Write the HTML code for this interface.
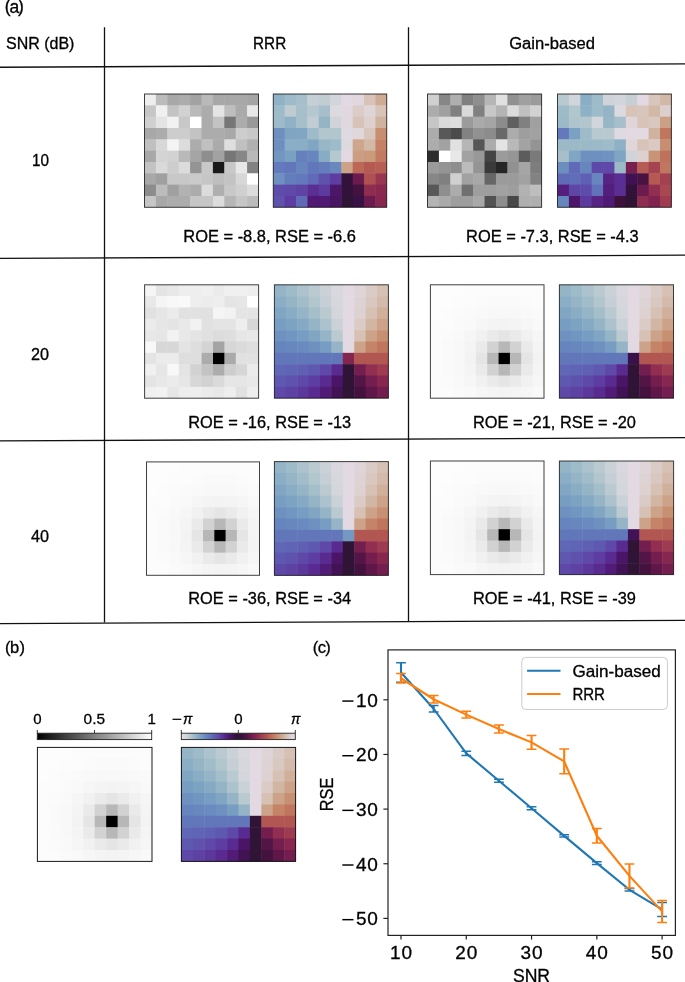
<!DOCTYPE html>
<html><head><meta charset="utf-8"><style>
html,body{margin:0;padding:0;background:#fff;}
svg{display:block;will-change:transform;}
text{font-family:"Liberation Sans",sans-serif;fill:#000;stroke:#000;stroke-width:0.3px;}
</style></head><body>
<svg width="685" height="982" viewBox="0 0 685 982">
<rect width="685" height="982" fill="#fff"/>
<text x="4.8" y="12.0" font-size="17.5">(</text>
<text x="9.4" y="12.9" font-size="17.5">a</text>
<text x="18.1" y="12.0" font-size="17.5">)</text>
<line x1="0" y1="67.25" x2="685" y2="63.90" stroke="#111" stroke-width="1.3"/>
<line x1="0" y1="258.45" x2="685" y2="255.20" stroke="#111" stroke-width="1.3"/>
<line x1="0" y1="440.95" x2="685" y2="437.70" stroke="#111" stroke-width="1.3"/>
<line x1="0" y1="623.55" x2="685" y2="620.30" stroke="#111" stroke-width="1.3"/>
<line x1="104.5" y1="27.3" x2="104.5" y2="622.5" stroke="#111" stroke-width="1.3"/>
<line x1="408.5" y1="27.3" x2="408.5" y2="621.5" stroke="#111" stroke-width="1.3"/>
<text x="6.0" y="49.0" font-size="16.0" textLength="68.4" lengthAdjust="spacingAndGlyphs">SNR (dB)</text>
<text x="253.1" y="48.6" font-size="16.0" textLength="33.1" lengthAdjust="spacingAndGlyphs">RRR</text>
<text x="509.2" y="48.6" font-size="16.0" textLength="85.7" lengthAdjust="spacingAndGlyphs">Gain-based</text>
<text x="32.0" y="166.0" font-size="16.0" textLength="17.0" lengthAdjust="spacingAndGlyphs">10</text>
<text x="31.0" y="360.0" font-size="16.0" textLength="18.0" lengthAdjust="spacingAndGlyphs">20</text>
<text x="31.0" y="542.4" font-size="16.0" textLength="18.0" lengthAdjust="spacingAndGlyphs">40</text>
<text x="183.3" y="242.2" font-size="16.0" textLength="172.6" lengthAdjust="spacingAndGlyphs">ROE = -8.8, RSE = -6.6</text>
<text x="466.1" y="242.2" font-size="16.0" textLength="172.5" lengthAdjust="spacingAndGlyphs">ROE = -7.3, RSE = -4.3</text>
<text x="188.3" y="428.0" font-size="16.0" textLength="162.8" lengthAdjust="spacingAndGlyphs">ROE = -16, RSE = -13</text>
<text x="473.0" y="428.0" font-size="16.0" textLength="162.9" lengthAdjust="spacingAndGlyphs">ROE = -21, RSE = -20</text>
<text x="188.3" y="604.4" font-size="16.0" textLength="162.8" lengthAdjust="spacingAndGlyphs">ROE = -36, RSE = -34</text>
<text x="473.0" y="604.4" font-size="16.0" textLength="162.9" lengthAdjust="spacingAndGlyphs">ROE = -41, RSE = -39</text>
<rect x="144.50" y="94.00" width="11.90" height="11.83" fill="#eeeeee"/>
<rect x="155.90" y="94.00" width="11.90" height="11.83" fill="#bcbcbc"/>
<rect x="167.30" y="94.00" width="11.90" height="11.83" fill="#a8a8a8"/>
<rect x="178.70" y="94.00" width="11.90" height="11.83" fill="#acacac"/>
<rect x="190.10" y="94.00" width="11.90" height="11.83" fill="#a2a2a2"/>
<rect x="201.50" y="94.00" width="11.90" height="11.83" fill="#b9b9b9"/>
<rect x="212.90" y="94.00" width="11.90" height="11.83" fill="#a8a8a8"/>
<rect x="224.30" y="94.00" width="11.90" height="11.83" fill="#a8a8a8"/>
<rect x="235.70" y="94.00" width="11.90" height="11.83" fill="#a8a8a8"/>
<rect x="247.10" y="94.00" width="11.40" height="11.83" fill="#a5a5a5"/>
<rect x="144.50" y="105.33" width="11.90" height="11.83" fill="#c6c6c6"/>
<rect x="155.90" y="105.33" width="11.90" height="11.83" fill="#f0f0f0"/>
<rect x="167.30" y="105.33" width="11.90" height="11.83" fill="#c3c3c3"/>
<rect x="178.70" y="105.33" width="11.90" height="11.83" fill="#d2d2d2"/>
<rect x="190.10" y="105.33" width="11.90" height="11.83" fill="#b9b9b9"/>
<rect x="201.50" y="105.33" width="11.90" height="11.83" fill="#acacac"/>
<rect x="212.90" y="105.33" width="11.90" height="11.83" fill="#e4e4e4"/>
<rect x="224.30" y="105.33" width="11.90" height="11.83" fill="#bebebe"/>
<rect x="235.70" y="105.33" width="11.90" height="11.83" fill="#aaaaaa"/>
<rect x="247.10" y="105.33" width="11.40" height="11.83" fill="#e8e8e8"/>
<rect x="144.50" y="116.66" width="11.90" height="11.83" fill="#d0d0d0"/>
<rect x="155.90" y="116.66" width="11.90" height="11.83" fill="#e4e4e4"/>
<rect x="167.30" y="116.66" width="11.90" height="11.83" fill="#f2f2f2"/>
<rect x="178.70" y="116.66" width="11.90" height="11.83" fill="#c8c8c8"/>
<rect x="190.10" y="116.66" width="11.90" height="11.83" fill="#ffffff"/>
<rect x="201.50" y="116.66" width="11.90" height="11.83" fill="#acacac"/>
<rect x="212.90" y="116.66" width="11.90" height="11.83" fill="#c3c3c3"/>
<rect x="224.30" y="116.66" width="11.90" height="11.83" fill="#767676"/>
<rect x="235.70" y="116.66" width="11.90" height="11.83" fill="#acacac"/>
<rect x="247.10" y="116.66" width="11.40" height="11.83" fill="#989898"/>
<rect x="144.50" y="127.99" width="11.90" height="11.83" fill="#a8a8a8"/>
<rect x="155.90" y="127.99" width="11.90" height="11.83" fill="#acacac"/>
<rect x="167.30" y="127.99" width="11.90" height="11.83" fill="#cdcdcd"/>
<rect x="178.70" y="127.99" width="11.90" height="11.83" fill="#cdcdcd"/>
<rect x="190.10" y="127.99" width="11.90" height="11.83" fill="#c3c3c3"/>
<rect x="201.50" y="127.99" width="11.90" height="11.83" fill="#acacac"/>
<rect x="212.90" y="127.99" width="11.90" height="11.83" fill="#acacac"/>
<rect x="224.30" y="127.99" width="11.90" height="11.83" fill="#a8a8a8"/>
<rect x="235.70" y="127.99" width="11.90" height="11.83" fill="#cdcdcd"/>
<rect x="247.10" y="127.99" width="11.40" height="11.83" fill="#c8c8c8"/>
<rect x="144.50" y="139.32" width="11.90" height="11.83" fill="#c0c0c0"/>
<rect x="155.90" y="139.32" width="11.90" height="11.83" fill="#d8d8d8"/>
<rect x="167.30" y="139.32" width="11.90" height="11.83" fill="#f4f4f4"/>
<rect x="178.70" y="139.32" width="11.90" height="11.83" fill="#dcdcdc"/>
<rect x="190.10" y="139.32" width="11.90" height="11.83" fill="#acacac"/>
<rect x="201.50" y="139.32" width="11.90" height="11.83" fill="#c0c0c0"/>
<rect x="212.90" y="139.32" width="11.90" height="11.83" fill="#ababab"/>
<rect x="224.30" y="139.32" width="11.90" height="11.83" fill="#dedede"/>
<rect x="235.70" y="139.32" width="11.90" height="11.83" fill="#c0c0c0"/>
<rect x="247.10" y="139.32" width="11.40" height="11.83" fill="#b0b0b0"/>
<rect x="144.50" y="150.65" width="11.90" height="11.83" fill="#a8a8a8"/>
<rect x="155.90" y="150.65" width="11.90" height="11.83" fill="#d4d4d4"/>
<rect x="167.30" y="150.65" width="11.90" height="11.83" fill="#d2d2d2"/>
<rect x="178.70" y="150.65" width="11.90" height="11.83" fill="#b9b9b9"/>
<rect x="190.10" y="150.65" width="11.90" height="11.83" fill="#a5a5a5"/>
<rect x="201.50" y="150.65" width="11.90" height="11.83" fill="#8e8e8e"/>
<rect x="212.90" y="150.65" width="11.90" height="11.83" fill="#a2a2a2"/>
<rect x="224.30" y="150.65" width="11.90" height="11.83" fill="#767676"/>
<rect x="235.70" y="150.65" width="11.90" height="11.83" fill="#878787"/>
<rect x="247.10" y="150.65" width="11.40" height="11.83" fill="#b9b9b9"/>
<rect x="144.50" y="161.98" width="11.90" height="11.83" fill="#c3c3c3"/>
<rect x="155.90" y="161.98" width="11.90" height="11.83" fill="#dadada"/>
<rect x="167.30" y="161.98" width="11.90" height="11.83" fill="#cdcdcd"/>
<rect x="178.70" y="161.98" width="11.90" height="11.83" fill="#dcdcdc"/>
<rect x="190.10" y="161.98" width="11.90" height="11.83" fill="#949494"/>
<rect x="201.50" y="161.98" width="11.90" height="11.83" fill="#c8c8c8"/>
<rect x="212.90" y="161.98" width="11.90" height="11.83" fill="#191919"/>
<rect x="224.30" y="161.98" width="11.90" height="11.83" fill="#c8c8c8"/>
<rect x="235.70" y="161.98" width="11.90" height="11.83" fill="#e8e8e8"/>
<rect x="247.10" y="161.98" width="11.40" height="11.83" fill="#828282"/>
<rect x="144.50" y="173.31" width="11.90" height="11.83" fill="#a8a8a8"/>
<rect x="155.90" y="173.31" width="11.90" height="11.83" fill="#a0a0a0"/>
<rect x="167.30" y="173.31" width="11.90" height="11.83" fill="#c8c8c8"/>
<rect x="178.70" y="173.31" width="11.90" height="11.83" fill="#c8c8c8"/>
<rect x="190.10" y="173.31" width="11.90" height="11.83" fill="#cacaca"/>
<rect x="201.50" y="173.31" width="11.90" height="11.83" fill="#c6c6c6"/>
<rect x="212.90" y="173.31" width="11.90" height="11.83" fill="#bebebe"/>
<rect x="224.30" y="173.31" width="11.90" height="11.83" fill="#c3c3c3"/>
<rect x="235.70" y="173.31" width="11.90" height="11.83" fill="#d7d7d7"/>
<rect x="247.10" y="173.31" width="11.40" height="11.83" fill="#ffffff"/>
<rect x="144.50" y="184.64" width="11.90" height="11.83" fill="#8c8c8c"/>
<rect x="155.90" y="184.64" width="11.90" height="11.83" fill="#bcbcbc"/>
<rect x="167.30" y="184.64" width="11.90" height="11.83" fill="#a0a0a0"/>
<rect x="178.70" y="184.64" width="11.90" height="11.83" fill="#b2b2b2"/>
<rect x="190.10" y="184.64" width="11.90" height="11.83" fill="#acacac"/>
<rect x="201.50" y="184.64" width="11.90" height="11.83" fill="#dcdcdc"/>
<rect x="212.90" y="184.64" width="11.90" height="11.83" fill="#afafaf"/>
<rect x="224.30" y="184.64" width="11.90" height="11.83" fill="#c8c8c8"/>
<rect x="235.70" y="184.64" width="11.90" height="11.83" fill="#d0d0d0"/>
<rect x="247.10" y="184.64" width="11.40" height="11.83" fill="#dcdcdc"/>
<rect x="144.50" y="195.97" width="11.90" height="11.33" fill="#c6c6c6"/>
<rect x="155.90" y="195.97" width="11.90" height="11.33" fill="#a8a8a8"/>
<rect x="167.30" y="195.97" width="11.90" height="11.33" fill="#acacac"/>
<rect x="178.70" y="195.97" width="11.90" height="11.33" fill="#acacac"/>
<rect x="190.10" y="195.97" width="11.90" height="11.33" fill="#c6c6c6"/>
<rect x="201.50" y="195.97" width="11.90" height="11.33" fill="#c6c6c6"/>
<rect x="212.90" y="195.97" width="11.90" height="11.33" fill="#dcdcdc"/>
<rect x="224.30" y="195.97" width="11.90" height="11.33" fill="#b6b6b6"/>
<rect x="235.70" y="195.97" width="11.90" height="11.33" fill="#c6c6c6"/>
<rect x="247.10" y="195.97" width="11.40" height="11.33" fill="#bcbcbc"/>
<rect x="144.50" y="94.00" width="114.00" height="113.30" fill="none" stroke="#000" stroke-opacity="0.75" stroke-width="1"/>
<rect x="273.30" y="94.00" width="11.84" height="11.83" fill="#91b2c6"/>
<rect x="284.64" y="94.00" width="11.84" height="11.83" fill="#9ebbc9"/>
<rect x="295.98" y="94.00" width="11.84" height="11.83" fill="#a6bfca"/>
<rect x="307.32" y="94.00" width="11.84" height="11.83" fill="#c5cfd5"/>
<rect x="318.66" y="94.00" width="11.84" height="11.83" fill="#c1cdd3"/>
<rect x="330.00" y="94.00" width="11.84" height="11.83" fill="#d2d5db"/>
<rect x="341.34" y="94.00" width="11.84" height="11.83" fill="#e2d9e2"/>
<rect x="352.68" y="94.00" width="11.84" height="11.83" fill="#e1d8df"/>
<rect x="364.02" y="94.00" width="11.84" height="11.83" fill="#d7c3b8"/>
<rect x="375.36" y="94.00" width="11.34" height="11.83" fill="#ceac94"/>
<rect x="273.30" y="105.33" width="11.84" height="11.83" fill="#9ebbc9"/>
<rect x="284.64" y="105.33" width="11.84" height="11.83" fill="#beccd2"/>
<rect x="295.98" y="105.33" width="11.84" height="11.83" fill="#a6bfca"/>
<rect x="307.32" y="105.33" width="11.84" height="11.83" fill="#b6c8cf"/>
<rect x="318.66" y="105.33" width="11.84" height="11.83" fill="#a6bfca"/>
<rect x="330.00" y="105.33" width="11.84" height="11.83" fill="#dcd9df"/>
<rect x="341.34" y="105.33" width="11.84" height="11.83" fill="#e1d8df"/>
<rect x="352.68" y="105.33" width="11.84" height="11.83" fill="#dbccc8"/>
<rect x="364.02" y="105.33" width="11.84" height="11.83" fill="#dfd4d6"/>
<rect x="375.36" y="105.33" width="11.34" height="11.83" fill="#d7c3b8"/>
<rect x="273.30" y="116.66" width="11.84" height="11.83" fill="#9ebbc9"/>
<rect x="284.64" y="116.66" width="11.84" height="11.83" fill="#91b2c6"/>
<rect x="295.98" y="116.66" width="11.84" height="11.83" fill="#a6bfca"/>
<rect x="307.32" y="116.66" width="11.84" height="11.83" fill="#c1cdd3"/>
<rect x="318.66" y="116.66" width="11.84" height="11.83" fill="#95b5c7"/>
<rect x="330.00" y="116.66" width="11.84" height="11.83" fill="#d0d4d9"/>
<rect x="341.34" y="116.66" width="11.84" height="11.83" fill="#e1d8df"/>
<rect x="352.68" y="116.66" width="11.84" height="11.83" fill="#d7c3b8"/>
<rect x="364.02" y="116.66" width="11.84" height="11.83" fill="#ddd0cf"/>
<rect x="375.36" y="116.66" width="11.34" height="11.83" fill="#d0b39e"/>
<rect x="273.30" y="127.99" width="11.84" height="11.83" fill="#6d90c0"/>
<rect x="284.64" y="127.99" width="11.84" height="11.83" fill="#7fa5c3"/>
<rect x="295.98" y="127.99" width="11.84" height="11.83" fill="#81a6c3"/>
<rect x="307.32" y="127.99" width="11.84" height="11.83" fill="#9ebbc9"/>
<rect x="318.66" y="127.99" width="11.84" height="11.83" fill="#b2c6ce"/>
<rect x="330.00" y="127.99" width="11.84" height="11.83" fill="#b2c6ce"/>
<rect x="341.34" y="127.99" width="11.84" height="11.83" fill="#dfd9e1"/>
<rect x="352.68" y="127.99" width="11.84" height="11.83" fill="#e0d7da"/>
<rect x="364.02" y="127.99" width="11.84" height="11.83" fill="#d8c5bb"/>
<rect x="375.36" y="127.99" width="11.34" height="11.83" fill="#c78e71"/>
<rect x="273.30" y="139.32" width="11.84" height="11.83" fill="#6d90c0"/>
<rect x="284.64" y="139.32" width="11.84" height="11.83" fill="#8aaec5"/>
<rect x="295.98" y="139.32" width="11.84" height="11.83" fill="#8aaec5"/>
<rect x="307.32" y="139.32" width="11.84" height="11.83" fill="#81a6c3"/>
<rect x="318.66" y="139.32" width="11.84" height="11.83" fill="#97b7c7"/>
<rect x="330.00" y="139.32" width="11.84" height="11.83" fill="#9ebbc9"/>
<rect x="341.34" y="139.32" width="11.84" height="11.83" fill="#dcd9df"/>
<rect x="352.68" y="139.32" width="11.84" height="11.83" fill="#cda68c"/>
<rect x="364.02" y="139.32" width="11.84" height="11.83" fill="#d2b8a7"/>
<rect x="375.36" y="139.32" width="11.34" height="11.83" fill="#c48166"/>
<rect x="273.30" y="150.65" width="11.84" height="11.83" fill="#7196c1"/>
<rect x="284.64" y="150.65" width="11.84" height="11.83" fill="#7aa0c2"/>
<rect x="295.98" y="150.65" width="11.84" height="11.83" fill="#6580bd"/>
<rect x="307.32" y="150.65" width="11.84" height="11.83" fill="#6786be"/>
<rect x="318.66" y="150.65" width="11.84" height="11.83" fill="#88acc4"/>
<rect x="330.00" y="150.65" width="11.84" height="11.83" fill="#b6c8cf"/>
<rect x="341.34" y="150.65" width="11.84" height="11.83" fill="#e2d9e2"/>
<rect x="352.68" y="150.65" width="11.84" height="11.83" fill="#cb9d82"/>
<rect x="364.02" y="150.65" width="11.84" height="11.83" fill="#ca9a7d"/>
<rect x="375.36" y="150.65" width="11.34" height="11.83" fill="#c27b62"/>
<rect x="273.30" y="161.98" width="11.84" height="11.83" fill="#637bbc"/>
<rect x="284.64" y="161.98" width="11.84" height="11.83" fill="#6276ba"/>
<rect x="295.98" y="161.98" width="11.84" height="11.83" fill="#6786be"/>
<rect x="307.32" y="161.98" width="11.84" height="11.83" fill="#6276ba"/>
<rect x="318.66" y="161.98" width="11.84" height="11.83" fill="#647ebc"/>
<rect x="330.00" y="161.98" width="11.84" height="11.83" fill="#6989be"/>
<rect x="341.34" y="161.98" width="11.84" height="11.83" fill="#cca389"/>
<rect x="352.68" y="161.98" width="11.84" height="11.83" fill="#bb6857"/>
<rect x="364.02" y="161.98" width="11.84" height="11.83" fill="#b45a53"/>
<rect x="375.36" y="161.98" width="11.34" height="11.83" fill="#b75f55"/>
<rect x="273.30" y="173.31" width="11.84" height="11.83" fill="#6d90c0"/>
<rect x="284.64" y="173.31" width="11.84" height="11.83" fill="#647ebc"/>
<rect x="295.98" y="173.31" width="11.84" height="11.83" fill="#6379bb"/>
<rect x="307.32" y="173.31" width="11.84" height="11.83" fill="#606ab7"/>
<rect x="318.66" y="173.31" width="11.84" height="11.83" fill="#5e52ad"/>
<rect x="330.00" y="173.31" width="11.84" height="11.83" fill="#5d3da1"/>
<rect x="341.34" y="173.31" width="11.84" height="11.83" fill="#32123b"/>
<rect x="352.68" y="173.31" width="11.84" height="11.83" fill="#6b1b4d"/>
<rect x="364.02" y="173.31" width="11.84" height="11.83" fill="#af5151"/>
<rect x="375.36" y="173.31" width="11.34" height="11.83" fill="#993650"/>
<rect x="273.30" y="184.64" width="11.84" height="11.83" fill="#5e4caa"/>
<rect x="284.64" y="184.64" width="11.84" height="11.83" fill="#5e49a9"/>
<rect x="295.98" y="184.64" width="11.84" height="11.83" fill="#5e43a5"/>
<rect x="307.32" y="184.64" width="11.84" height="11.83" fill="#5a2e93"/>
<rect x="318.66" y="184.64" width="11.84" height="11.83" fill="#5d3a9e"/>
<rect x="330.00" y="184.64" width="11.84" height="11.83" fill="#4c176b"/>
<rect x="341.34" y="184.64" width="11.84" height="11.83" fill="#32123b"/>
<rect x="352.68" y="184.64" width="11.84" height="11.83" fill="#43123e"/>
<rect x="364.02" y="184.64" width="11.84" height="11.83" fill="#8f2d50"/>
<rect x="375.36" y="184.64" width="11.34" height="11.83" fill="#8a2950"/>
<rect x="273.30" y="195.97" width="11.84" height="11.33" fill="#5e52ad"/>
<rect x="284.64" y="195.97" width="11.84" height="11.33" fill="#5d3da1"/>
<rect x="295.98" y="195.97" width="11.84" height="11.33" fill="#606ab7"/>
<rect x="307.32" y="195.97" width="11.84" height="11.33" fill="#501a74"/>
<rect x="318.66" y="195.97" width="11.84" height="11.33" fill="#501a74"/>
<rect x="330.00" y="195.97" width="11.84" height="11.33" fill="#481563"/>
<rect x="341.34" y="195.97" width="11.84" height="11.33" fill="#2f1436"/>
<rect x="352.68" y="195.97" width="11.84" height="11.33" fill="#381145"/>
<rect x="364.02" y="195.97" width="11.84" height="11.33" fill="#6b1b4d"/>
<rect x="375.36" y="195.97" width="11.34" height="11.33" fill="#872750"/>
<rect x="273.30" y="94.00" width="113.40" height="113.30" fill="none" stroke="#000" stroke-opacity="0.75" stroke-width="1"/>
<rect x="427.50" y="94.00" width="11.91" height="11.83" fill="#d0d0d0"/>
<rect x="438.91" y="94.00" width="11.91" height="11.83" fill="#878787"/>
<rect x="450.32" y="94.00" width="11.91" height="11.83" fill="#afafaf"/>
<rect x="461.73" y="94.00" width="11.91" height="11.83" fill="#808080"/>
<rect x="473.14" y="94.00" width="11.91" height="11.83" fill="#8e8e8e"/>
<rect x="484.55" y="94.00" width="11.91" height="11.83" fill="#b6b6b6"/>
<rect x="495.96" y="94.00" width="11.91" height="11.83" fill="#e1e1e1"/>
<rect x="507.37" y="94.00" width="11.91" height="11.83" fill="#919191"/>
<rect x="518.78" y="94.00" width="11.91" height="11.83" fill="#a0a0a0"/>
<rect x="530.19" y="94.00" width="11.41" height="11.83" fill="#9b9b9b"/>
<rect x="427.50" y="105.33" width="11.91" height="11.83" fill="#acacac"/>
<rect x="438.91" y="105.33" width="11.91" height="11.83" fill="#a0a0a0"/>
<rect x="450.32" y="105.33" width="11.91" height="11.83" fill="#808080"/>
<rect x="461.73" y="105.33" width="11.91" height="11.83" fill="#dadada"/>
<rect x="473.14" y="105.33" width="11.91" height="11.83" fill="#808080"/>
<rect x="484.55" y="105.33" width="11.91" height="11.83" fill="#c8c8c8"/>
<rect x="495.96" y="105.33" width="11.91" height="11.83" fill="#b4b4b4"/>
<rect x="507.37" y="105.33" width="11.91" height="11.83" fill="#dcdcdc"/>
<rect x="518.78" y="105.33" width="11.91" height="11.83" fill="#c0c0c0"/>
<rect x="530.19" y="105.33" width="11.41" height="11.83" fill="#d2d2d2"/>
<rect x="427.50" y="116.66" width="11.91" height="11.83" fill="#c6c6c6"/>
<rect x="438.91" y="116.66" width="11.91" height="11.83" fill="#dadada"/>
<rect x="450.32" y="116.66" width="11.91" height="11.83" fill="#dedede"/>
<rect x="461.73" y="116.66" width="11.91" height="11.83" fill="#9b9b9b"/>
<rect x="473.14" y="116.66" width="11.91" height="11.83" fill="#aaaaaa"/>
<rect x="484.55" y="116.66" width="11.91" height="11.83" fill="#a5a5a5"/>
<rect x="495.96" y="116.66" width="11.91" height="11.83" fill="#8c8c8c"/>
<rect x="507.37" y="116.66" width="11.91" height="11.83" fill="#5f5f5f"/>
<rect x="518.78" y="116.66" width="11.91" height="11.83" fill="#808080"/>
<rect x="530.19" y="116.66" width="11.41" height="11.83" fill="#a0a0a0"/>
<rect x="427.50" y="127.99" width="11.91" height="11.83" fill="#acacac"/>
<rect x="438.91" y="127.99" width="11.91" height="11.83" fill="#585858"/>
<rect x="450.32" y="127.99" width="11.91" height="11.83" fill="#4b4b4b"/>
<rect x="461.73" y="127.99" width="11.91" height="11.83" fill="#828282"/>
<rect x="473.14" y="127.99" width="11.91" height="11.83" fill="#919191"/>
<rect x="484.55" y="127.99" width="11.91" height="11.83" fill="#8c8c8c"/>
<rect x="495.96" y="127.99" width="11.91" height="11.83" fill="#696969"/>
<rect x="507.37" y="127.99" width="11.91" height="11.83" fill="#acacac"/>
<rect x="518.78" y="127.99" width="11.91" height="11.83" fill="#9e9e9e"/>
<rect x="530.19" y="127.99" width="11.41" height="11.83" fill="#a2a2a2"/>
<rect x="427.50" y="139.32" width="11.91" height="11.83" fill="#acacac"/>
<rect x="438.91" y="139.32" width="11.91" height="11.83" fill="#a2a2a2"/>
<rect x="450.32" y="139.32" width="11.91" height="11.83" fill="#e1e1e1"/>
<rect x="461.73" y="139.32" width="11.91" height="11.83" fill="#b6b6b6"/>
<rect x="473.14" y="139.32" width="11.91" height="11.83" fill="#565656"/>
<rect x="484.55" y="139.32" width="11.91" height="11.83" fill="#acacac"/>
<rect x="495.96" y="139.32" width="11.91" height="11.83" fill="#e4e4e4"/>
<rect x="507.37" y="139.32" width="11.91" height="11.83" fill="#b9b9b9"/>
<rect x="518.78" y="139.32" width="11.91" height="11.83" fill="#a3a3a3"/>
<rect x="530.19" y="139.32" width="11.41" height="11.83" fill="#949494"/>
<rect x="427.50" y="150.65" width="11.91" height="11.83" fill="#2d2d2d"/>
<rect x="438.91" y="150.65" width="11.91" height="11.83" fill="#ffffff"/>
<rect x="450.32" y="150.65" width="11.91" height="11.83" fill="#e8e8e8"/>
<rect x="461.73" y="150.65" width="11.91" height="11.83" fill="#a2a2a2"/>
<rect x="473.14" y="150.65" width="11.91" height="11.83" fill="#989898"/>
<rect x="484.55" y="150.65" width="11.91" height="11.83" fill="#444444"/>
<rect x="495.96" y="150.65" width="11.91" height="11.83" fill="#9b9b9b"/>
<rect x="507.37" y="150.65" width="11.91" height="11.83" fill="#969696"/>
<rect x="518.78" y="150.65" width="11.91" height="11.83" fill="#5c5c5c"/>
<rect x="530.19" y="150.65" width="11.41" height="11.83" fill="#7a7a7a"/>
<rect x="427.50" y="161.98" width="11.91" height="11.83" fill="#9b9b9b"/>
<rect x="438.91" y="161.98" width="11.91" height="11.83" fill="#949494"/>
<rect x="450.32" y="161.98" width="11.91" height="11.83" fill="#8e8e8e"/>
<rect x="461.73" y="161.98" width="11.91" height="11.83" fill="#bcbcbc"/>
<rect x="473.14" y="161.98" width="11.91" height="11.83" fill="#949494"/>
<rect x="484.55" y="161.98" width="11.91" height="11.83" fill="#3a3a3a"/>
<rect x="495.96" y="161.98" width="11.91" height="11.83" fill="#262626"/>
<rect x="507.37" y="161.98" width="11.91" height="11.83" fill="#919191"/>
<rect x="518.78" y="161.98" width="11.91" height="11.83" fill="#a5a5a5"/>
<rect x="530.19" y="161.98" width="11.41" height="11.83" fill="#7d7d7d"/>
<rect x="427.50" y="173.31" width="11.91" height="11.83" fill="#878787"/>
<rect x="438.91" y="173.31" width="11.91" height="11.83" fill="#808080"/>
<rect x="450.32" y="173.31" width="11.91" height="11.83" fill="#d0d0d0"/>
<rect x="461.73" y="173.31" width="11.91" height="11.83" fill="#a2a2a2"/>
<rect x="473.14" y="173.31" width="11.91" height="11.83" fill="#a8a8a8"/>
<rect x="484.55" y="173.31" width="11.91" height="11.83" fill="#666666"/>
<rect x="495.96" y="173.31" width="11.91" height="11.83" fill="#9b9b9b"/>
<rect x="507.37" y="173.31" width="11.91" height="11.83" fill="#9b9b9b"/>
<rect x="518.78" y="173.31" width="11.91" height="11.83" fill="#a2a2a2"/>
<rect x="530.19" y="173.31" width="11.41" height="11.83" fill="#828282"/>
<rect x="427.50" y="184.64" width="11.91" height="11.83" fill="#585858"/>
<rect x="438.91" y="184.64" width="11.91" height="11.83" fill="#8e8e8e"/>
<rect x="450.32" y="184.64" width="11.91" height="11.83" fill="#acacac"/>
<rect x="461.73" y="184.64" width="11.91" height="11.83" fill="#707070"/>
<rect x="473.14" y="184.64" width="11.91" height="11.83" fill="#9e9e9e"/>
<rect x="484.55" y="184.64" width="11.91" height="11.83" fill="#9e9e9e"/>
<rect x="495.96" y="184.64" width="11.91" height="11.83" fill="#a2a2a2"/>
<rect x="507.37" y="184.64" width="11.91" height="11.83" fill="#9e9e9e"/>
<rect x="518.78" y="184.64" width="11.91" height="11.83" fill="#b2b2b2"/>
<rect x="530.19" y="184.64" width="11.41" height="11.83" fill="#bebebe"/>
<rect x="427.50" y="195.97" width="11.91" height="11.33" fill="#b4b4b4"/>
<rect x="438.91" y="195.97" width="11.91" height="11.33" fill="#aaaaaa"/>
<rect x="450.32" y="195.97" width="11.91" height="11.33" fill="#9e9e9e"/>
<rect x="461.73" y="195.97" width="11.91" height="11.33" fill="#9e9e9e"/>
<rect x="473.14" y="195.97" width="11.91" height="11.33" fill="#a8a8a8"/>
<rect x="484.55" y="195.97" width="11.91" height="11.33" fill="#525252"/>
<rect x="495.96" y="195.97" width="11.91" height="11.33" fill="#8e8e8e"/>
<rect x="507.37" y="195.97" width="11.91" height="11.33" fill="#484848"/>
<rect x="518.78" y="195.97" width="11.91" height="11.33" fill="#afafaf"/>
<rect x="530.19" y="195.97" width="11.41" height="11.33" fill="#afafaf"/>
<rect x="427.50" y="94.00" width="114.10" height="113.30" fill="none" stroke="#000" stroke-opacity="0.75" stroke-width="1"/>
<rect x="557.50" y="94.00" width="11.89" height="11.83" fill="#b9c9d0"/>
<rect x="568.89" y="94.00" width="11.89" height="11.83" fill="#d2d5db"/>
<rect x="580.28" y="94.00" width="11.89" height="11.83" fill="#8aaec5"/>
<rect x="591.67" y="94.00" width="11.89" height="11.83" fill="#9ebbc9"/>
<rect x="603.06" y="94.00" width="11.89" height="11.83" fill="#d0d4d9"/>
<rect x="614.45" y="94.00" width="11.89" height="11.83" fill="#d2d5db"/>
<rect x="625.84" y="94.00" width="11.89" height="11.83" fill="#c5cfd5"/>
<rect x="637.23" y="94.00" width="11.89" height="11.83" fill="#e2d9e2"/>
<rect x="648.62" y="94.00" width="11.89" height="11.83" fill="#d8c5bb"/>
<rect x="660.01" y="94.00" width="11.39" height="11.83" fill="#d2b8a7"/>
<rect x="557.50" y="105.33" width="11.89" height="11.83" fill="#9ebbc9"/>
<rect x="568.89" y="105.33" width="11.89" height="11.83" fill="#b2c6ce"/>
<rect x="580.28" y="105.33" width="11.89" height="11.83" fill="#8eb1c5"/>
<rect x="591.67" y="105.33" width="11.89" height="11.83" fill="#9ebbc9"/>
<rect x="603.06" y="105.33" width="11.89" height="11.83" fill="#95b5c7"/>
<rect x="614.45" y="105.33" width="11.89" height="11.83" fill="#dcd9df"/>
<rect x="625.84" y="105.33" width="11.89" height="11.83" fill="#d7c3b8"/>
<rect x="637.23" y="105.33" width="11.89" height="11.83" fill="#d8c5bb"/>
<rect x="648.62" y="105.33" width="11.89" height="11.83" fill="#d2b8a7"/>
<rect x="660.01" y="105.33" width="11.39" height="11.83" fill="#dccfcd"/>
<rect x="557.50" y="116.66" width="11.89" height="11.83" fill="#9cb9c8"/>
<rect x="568.89" y="116.66" width="11.89" height="11.83" fill="#afc4cd"/>
<rect x="580.28" y="116.66" width="11.89" height="11.83" fill="#b2c6ce"/>
<rect x="591.67" y="116.66" width="11.89" height="11.83" fill="#d2d5db"/>
<rect x="603.06" y="116.66" width="11.89" height="11.83" fill="#97b7c7"/>
<rect x="614.45" y="116.66" width="11.89" height="11.83" fill="#a6bfca"/>
<rect x="625.84" y="116.66" width="11.89" height="11.83" fill="#e0d6d9"/>
<rect x="637.23" y="116.66" width="11.89" height="11.83" fill="#d7c3b8"/>
<rect x="648.62" y="116.66" width="11.89" height="11.83" fill="#d9c8c0"/>
<rect x="660.01" y="116.66" width="11.39" height="11.83" fill="#cba085"/>
<rect x="557.50" y="127.99" width="11.89" height="11.83" fill="#6379bb"/>
<rect x="568.89" y="127.99" width="11.89" height="11.83" fill="#7aa0c2"/>
<rect x="580.28" y="127.99" width="11.89" height="11.83" fill="#9ebbc9"/>
<rect x="591.67" y="127.99" width="11.89" height="11.83" fill="#b9c9d0"/>
<rect x="603.06" y="127.99" width="11.89" height="11.83" fill="#b9c9d0"/>
<rect x="614.45" y="127.99" width="11.89" height="11.83" fill="#dfd9e1"/>
<rect x="625.84" y="127.99" width="11.89" height="11.83" fill="#e2d9e1"/>
<rect x="637.23" y="127.99" width="11.89" height="11.83" fill="#e2d9e1"/>
<rect x="648.62" y="127.99" width="11.89" height="11.83" fill="#d0b39e"/>
<rect x="660.01" y="127.99" width="11.39" height="11.83" fill="#c0755e"/>
<rect x="557.50" y="139.32" width="11.89" height="11.83" fill="#9cb9c8"/>
<rect x="568.89" y="139.32" width="11.89" height="11.83" fill="#9cb9c8"/>
<rect x="580.28" y="139.32" width="11.89" height="11.83" fill="#9cb9c8"/>
<rect x="591.67" y="139.32" width="11.89" height="11.83" fill="#9cb9c8"/>
<rect x="603.06" y="139.32" width="11.89" height="11.83" fill="#9ebbc9"/>
<rect x="614.45" y="139.32" width="11.89" height="11.83" fill="#8eb1c5"/>
<rect x="625.84" y="139.32" width="11.89" height="11.83" fill="#e0d6d9"/>
<rect x="637.23" y="139.32" width="11.89" height="11.83" fill="#d7c3b8"/>
<rect x="648.62" y="139.32" width="11.89" height="11.83" fill="#dacac3"/>
<rect x="660.01" y="139.32" width="11.39" height="11.83" fill="#c78e71"/>
<rect x="557.50" y="150.65" width="11.89" height="11.83" fill="#a6bfca"/>
<rect x="568.89" y="150.65" width="11.89" height="11.83" fill="#81a6c3"/>
<rect x="580.28" y="150.65" width="11.89" height="11.83" fill="#6d90c0"/>
<rect x="591.67" y="150.65" width="11.89" height="11.83" fill="#6d90c0"/>
<rect x="603.06" y="150.65" width="11.89" height="11.83" fill="#6f93c0"/>
<rect x="614.45" y="150.65" width="11.89" height="11.83" fill="#7fa5c3"/>
<rect x="625.84" y="150.65" width="11.89" height="11.83" fill="#d0d4d9"/>
<rect x="637.23" y="150.65" width="11.89" height="11.83" fill="#ddd0cf"/>
<rect x="648.62" y="150.65" width="11.89" height="11.83" fill="#c89477"/>
<rect x="660.01" y="150.65" width="11.39" height="11.83" fill="#bf715c"/>
<rect x="557.50" y="161.98" width="11.89" height="11.83" fill="#6c8ebf"/>
<rect x="568.89" y="161.98" width="11.89" height="11.83" fill="#606ab7"/>
<rect x="580.28" y="161.98" width="11.89" height="11.83" fill="#6786be"/>
<rect x="591.67" y="161.98" width="11.89" height="11.83" fill="#5e49a9"/>
<rect x="603.06" y="161.98" width="11.89" height="11.83" fill="#5e49a9"/>
<rect x="614.45" y="161.98" width="11.89" height="11.83" fill="#9cb9c8"/>
<rect x="625.84" y="161.98" width="11.89" height="11.83" fill="#781f4f"/>
<rect x="637.23" y="161.98" width="11.89" height="11.83" fill="#b55c54"/>
<rect x="648.62" y="161.98" width="11.89" height="11.83" fill="#a54350"/>
<rect x="660.01" y="161.98" width="11.39" height="11.83" fill="#c1775f"/>
<rect x="557.50" y="173.31" width="11.89" height="11.83" fill="#606ab7"/>
<rect x="568.89" y="173.31" width="11.89" height="11.83" fill="#606db8"/>
<rect x="580.28" y="173.31" width="11.89" height="11.83" fill="#5f5fb3"/>
<rect x="591.67" y="173.31" width="11.89" height="11.83" fill="#6786be"/>
<rect x="603.06" y="173.31" width="11.89" height="11.83" fill="#572385"/>
<rect x="614.45" y="173.31" width="11.89" height="11.83" fill="#5a2e93"/>
<rect x="625.84" y="173.31" width="11.89" height="11.83" fill="#401253"/>
<rect x="637.23" y="173.31" width="11.89" height="11.83" fill="#491341"/>
<rect x="648.62" y="173.31" width="11.89" height="11.83" fill="#b45a53"/>
<rect x="660.01" y="173.31" width="11.39" height="11.83" fill="#a34150"/>
<rect x="557.50" y="184.64" width="11.89" height="11.83" fill="#531e7c"/>
<rect x="568.89" y="184.64" width="11.89" height="11.83" fill="#5e46a6"/>
<rect x="580.28" y="184.64" width="11.89" height="11.83" fill="#5e4caa"/>
<rect x="591.67" y="184.64" width="11.89" height="11.83" fill="#6172ba"/>
<rect x="603.06" y="184.64" width="11.89" height="11.83" fill="#531e7c"/>
<rect x="614.45" y="184.64" width="11.89" height="11.83" fill="#5a2e93"/>
<rect x="625.84" y="184.64" width="11.89" height="11.83" fill="#32123b"/>
<rect x="637.23" y="184.64" width="11.89" height="11.83" fill="#6b1b4d"/>
<rect x="648.62" y="184.64" width="11.89" height="11.83" fill="#922f50"/>
<rect x="660.01" y="184.64" width="11.39" height="11.83" fill="#a94850"/>
<rect x="557.50" y="195.97" width="11.89" height="11.33" fill="#6786be"/>
<rect x="568.89" y="195.97" width="11.89" height="11.33" fill="#4c176b"/>
<rect x="580.28" y="195.97" width="11.89" height="11.33" fill="#5d3a9e"/>
<rect x="591.67" y="195.97" width="11.89" height="11.33" fill="#572385"/>
<rect x="603.06" y="195.97" width="11.89" height="11.33" fill="#501a74"/>
<rect x="614.45" y="195.97" width="11.89" height="11.33" fill="#3e113c"/>
<rect x="625.84" y="195.97" width="11.89" height="11.33" fill="#2f1436"/>
<rect x="637.23" y="195.97" width="11.89" height="11.33" fill="#8f2d50"/>
<rect x="648.62" y="195.97" width="11.89" height="11.33" fill="#802350"/>
<rect x="660.01" y="195.97" width="11.39" height="11.33" fill="#9f3c50"/>
<rect x="557.50" y="94.00" width="113.90" height="113.30" fill="none" stroke="#000" stroke-opacity="0.75" stroke-width="1"/>
<rect x="144.60" y="284.80" width="11.90" height="11.84" fill="#f5f5f5"/>
<rect x="156.00" y="284.80" width="11.90" height="11.84" fill="#e4e4e4"/>
<rect x="167.40" y="284.80" width="11.90" height="11.84" fill="#e8e8e8"/>
<rect x="178.80" y="284.80" width="11.90" height="11.84" fill="#eeeeee"/>
<rect x="190.20" y="284.80" width="11.90" height="11.84" fill="#eeeeee"/>
<rect x="201.60" y="284.80" width="11.90" height="11.84" fill="#f0f0f0"/>
<rect x="213.00" y="284.80" width="11.90" height="11.84" fill="#ebebeb"/>
<rect x="224.40" y="284.80" width="11.90" height="11.84" fill="#f0f0f0"/>
<rect x="235.80" y="284.80" width="11.90" height="11.84" fill="#f0f0f0"/>
<rect x="247.20" y="284.80" width="11.40" height="11.84" fill="#eeeeee"/>
<rect x="144.60" y="296.14" width="11.90" height="11.84" fill="#e8e8e8"/>
<rect x="156.00" y="296.14" width="11.90" height="11.84" fill="#f5f5f5"/>
<rect x="167.40" y="296.14" width="11.90" height="11.84" fill="#f8f8f8"/>
<rect x="178.80" y="296.14" width="11.90" height="11.84" fill="#fafafa"/>
<rect x="190.20" y="296.14" width="11.90" height="11.84" fill="#eeeeee"/>
<rect x="201.60" y="296.14" width="11.90" height="11.84" fill="#ececec"/>
<rect x="213.00" y="296.14" width="11.90" height="11.84" fill="#eeeeee"/>
<rect x="224.40" y="296.14" width="11.90" height="11.84" fill="#e4e4e4"/>
<rect x="235.80" y="296.14" width="11.90" height="11.84" fill="#e6e6e6"/>
<rect x="247.20" y="296.14" width="11.40" height="11.84" fill="#ffffff"/>
<rect x="144.60" y="307.48" width="11.90" height="11.84" fill="#e1e1e1"/>
<rect x="156.00" y="307.48" width="11.90" height="11.84" fill="#e6e6e6"/>
<rect x="167.40" y="307.48" width="11.90" height="11.84" fill="#ebebeb"/>
<rect x="178.80" y="307.48" width="11.90" height="11.84" fill="#e1e1e1"/>
<rect x="190.20" y="307.48" width="11.90" height="11.84" fill="#e1e1e1"/>
<rect x="201.60" y="307.48" width="11.90" height="11.84" fill="#e1e1e1"/>
<rect x="213.00" y="307.48" width="11.90" height="11.84" fill="#f5f5f5"/>
<rect x="224.40" y="307.48" width="11.90" height="11.84" fill="#f2f2f2"/>
<rect x="235.80" y="307.48" width="11.90" height="11.84" fill="#e4e4e4"/>
<rect x="247.20" y="307.48" width="11.40" height="11.84" fill="#e4e4e4"/>
<rect x="144.60" y="318.82" width="11.90" height="11.84" fill="#ebebeb"/>
<rect x="156.00" y="318.82" width="11.90" height="11.84" fill="#e6e6e6"/>
<rect x="167.40" y="318.82" width="11.90" height="11.84" fill="#e4e4e4"/>
<rect x="178.80" y="318.82" width="11.90" height="11.84" fill="#e9e9e9"/>
<rect x="190.20" y="318.82" width="11.90" height="11.84" fill="#f2f2f2"/>
<rect x="201.60" y="318.82" width="11.90" height="11.84" fill="#e1e1e1"/>
<rect x="213.00" y="318.82" width="11.90" height="11.84" fill="#e4e4e4"/>
<rect x="224.40" y="318.82" width="11.90" height="11.84" fill="#e4e4e4"/>
<rect x="235.80" y="318.82" width="11.90" height="11.84" fill="#eeeeee"/>
<rect x="247.20" y="318.82" width="11.40" height="11.84" fill="#d7d7d7"/>
<rect x="144.60" y="330.16" width="11.90" height="11.84" fill="#e8e8e8"/>
<rect x="156.00" y="330.16" width="11.90" height="11.84" fill="#e6e6e6"/>
<rect x="167.40" y="330.16" width="11.90" height="11.84" fill="#f2f2f2"/>
<rect x="178.80" y="330.16" width="11.90" height="11.84" fill="#e8e8e8"/>
<rect x="190.20" y="330.16" width="11.90" height="11.84" fill="#e4e4e4"/>
<rect x="201.60" y="330.16" width="11.90" height="11.84" fill="#e0e0e0"/>
<rect x="213.00" y="330.16" width="11.90" height="11.84" fill="#dcdcdc"/>
<rect x="224.40" y="330.16" width="11.90" height="11.84" fill="#dedede"/>
<rect x="235.80" y="330.16" width="11.90" height="11.84" fill="#e6e6e6"/>
<rect x="247.20" y="330.16" width="11.40" height="11.84" fill="#e8e8e8"/>
<rect x="144.60" y="341.50" width="11.90" height="11.84" fill="#f8f8f8"/>
<rect x="156.00" y="341.50" width="11.90" height="11.84" fill="#d7d7d7"/>
<rect x="167.40" y="341.50" width="11.90" height="11.84" fill="#d7d7d7"/>
<rect x="178.80" y="341.50" width="11.90" height="11.84" fill="#e4e4e4"/>
<rect x="190.20" y="341.50" width="11.90" height="11.84" fill="#dedede"/>
<rect x="201.60" y="341.50" width="11.90" height="11.84" fill="#d4d4d4"/>
<rect x="213.00" y="341.50" width="11.90" height="11.84" fill="#a4a4a4"/>
<rect x="224.40" y="341.50" width="11.90" height="11.84" fill="#d6d6d6"/>
<rect x="235.80" y="341.50" width="11.90" height="11.84" fill="#dadada"/>
<rect x="247.20" y="341.50" width="11.40" height="11.84" fill="#dedede"/>
<rect x="144.60" y="352.84" width="11.90" height="11.84" fill="#e4e4e4"/>
<rect x="156.00" y="352.84" width="11.90" height="11.84" fill="#ebebeb"/>
<rect x="167.40" y="352.84" width="11.90" height="11.84" fill="#ebebeb"/>
<rect x="178.80" y="352.84" width="11.90" height="11.84" fill="#dedede"/>
<rect x="190.20" y="352.84" width="11.90" height="11.84" fill="#dedede"/>
<rect x="201.60" y="352.84" width="11.90" height="11.84" fill="#acacac"/>
<rect x="213.00" y="352.84" width="11.90" height="11.84" fill="#000000"/>
<rect x="224.40" y="352.84" width="11.90" height="11.84" fill="#aaaaaa"/>
<rect x="235.80" y="352.84" width="11.90" height="11.84" fill="#e1e1e1"/>
<rect x="247.20" y="352.84" width="11.40" height="11.84" fill="#e1e1e1"/>
<rect x="144.60" y="364.18" width="11.90" height="11.84" fill="#f0f0f0"/>
<rect x="156.00" y="364.18" width="11.90" height="11.84" fill="#e6e6e6"/>
<rect x="167.40" y="364.18" width="11.90" height="11.84" fill="#f8f8f8"/>
<rect x="178.80" y="364.18" width="11.90" height="11.84" fill="#e4e4e4"/>
<rect x="190.20" y="364.18" width="11.90" height="11.84" fill="#d2d2d2"/>
<rect x="201.60" y="364.18" width="11.90" height="11.84" fill="#c3c3c3"/>
<rect x="213.00" y="364.18" width="11.90" height="11.84" fill="#adadad"/>
<rect x="224.40" y="364.18" width="11.90" height="11.84" fill="#cdcdcd"/>
<rect x="235.80" y="364.18" width="11.90" height="11.84" fill="#d6d6d6"/>
<rect x="247.20" y="364.18" width="11.40" height="11.84" fill="#ebebeb"/>
<rect x="144.60" y="375.52" width="11.90" height="11.84" fill="#e4e4e4"/>
<rect x="156.00" y="375.52" width="11.90" height="11.84" fill="#e8e8e8"/>
<rect x="167.40" y="375.52" width="11.90" height="11.84" fill="#ebebeb"/>
<rect x="178.80" y="375.52" width="11.90" height="11.84" fill="#e6e6e6"/>
<rect x="190.20" y="375.52" width="11.90" height="11.84" fill="#d7d7d7"/>
<rect x="201.60" y="375.52" width="11.90" height="11.84" fill="#d2d2d2"/>
<rect x="213.00" y="375.52" width="11.90" height="11.84" fill="#dadada"/>
<rect x="224.40" y="375.52" width="11.90" height="11.84" fill="#e6e6e6"/>
<rect x="235.80" y="375.52" width="11.90" height="11.84" fill="#e6e6e6"/>
<rect x="247.20" y="375.52" width="11.40" height="11.84" fill="#e8e8e8"/>
<rect x="144.60" y="386.86" width="11.90" height="11.34" fill="#f0f0f0"/>
<rect x="156.00" y="386.86" width="11.90" height="11.34" fill="#f2f2f2"/>
<rect x="167.40" y="386.86" width="11.90" height="11.34" fill="#e6e6e6"/>
<rect x="178.80" y="386.86" width="11.90" height="11.34" fill="#eeeeee"/>
<rect x="190.20" y="386.86" width="11.90" height="11.34" fill="#eeeeee"/>
<rect x="201.60" y="386.86" width="11.90" height="11.34" fill="#ebebeb"/>
<rect x="213.00" y="386.86" width="11.90" height="11.34" fill="#e8e8e8"/>
<rect x="224.40" y="386.86" width="11.90" height="11.34" fill="#eeeeee"/>
<rect x="235.80" y="386.86" width="11.90" height="11.34" fill="#e1e1e1"/>
<rect x="247.20" y="386.86" width="11.40" height="11.34" fill="#eeeeee"/>
<rect x="144.60" y="284.80" width="114.00" height="113.40" fill="none" stroke="#000" stroke-opacity="0.75" stroke-width="1"/>
<rect x="274.40" y="284.80" width="11.90" height="11.84" fill="#95b5c7"/>
<rect x="285.80" y="284.80" width="11.90" height="11.84" fill="#9ebbc9"/>
<rect x="297.20" y="284.80" width="11.90" height="11.84" fill="#acc2cc"/>
<rect x="308.60" y="284.80" width="11.90" height="11.84" fill="#bbcad1"/>
<rect x="320.00" y="284.80" width="11.90" height="11.84" fill="#cbd2d7"/>
<rect x="331.40" y="284.80" width="11.90" height="11.84" fill="#d9d8de"/>
<rect x="342.80" y="284.80" width="11.90" height="11.84" fill="#e2d9e2"/>
<rect x="354.20" y="284.80" width="11.90" height="11.84" fill="#dfd5d8"/>
<rect x="365.60" y="284.80" width="11.90" height="11.84" fill="#dbcbc6"/>
<rect x="377.00" y="284.80" width="11.40" height="11.84" fill="#d6c1b4"/>
<rect x="274.40" y="296.14" width="11.90" height="11.84" fill="#8aaec5"/>
<rect x="285.80" y="296.14" width="11.90" height="11.84" fill="#95b5c7"/>
<rect x="297.20" y="296.14" width="11.90" height="11.84" fill="#a1bdc9"/>
<rect x="308.60" y="296.14" width="11.90" height="11.84" fill="#b2c6ce"/>
<rect x="320.00" y="296.14" width="11.90" height="11.84" fill="#c5cfd5"/>
<rect x="331.40" y="296.14" width="11.90" height="11.84" fill="#d6d7dd"/>
<rect x="342.80" y="296.14" width="11.90" height="11.84" fill="#e2d9e2"/>
<rect x="354.20" y="296.14" width="11.90" height="11.84" fill="#ded3d4"/>
<rect x="365.60" y="296.14" width="11.90" height="11.84" fill="#d9c8c0"/>
<rect x="377.00" y="296.14" width="11.40" height="11.84" fill="#d3baaa"/>
<rect x="274.40" y="307.48" width="11.90" height="11.84" fill="#81a6c3"/>
<rect x="285.80" y="307.48" width="11.90" height="11.84" fill="#89adc5"/>
<rect x="297.20" y="307.48" width="11.90" height="11.84" fill="#95b5c7"/>
<rect x="308.60" y="307.48" width="11.90" height="11.84" fill="#a4beca"/>
<rect x="320.00" y="307.48" width="11.90" height="11.84" fill="#bbcad1"/>
<rect x="331.40" y="307.48" width="11.90" height="11.84" fill="#d3d6db"/>
<rect x="342.80" y="307.48" width="11.90" height="11.84" fill="#e2d9e2"/>
<rect x="354.20" y="307.48" width="11.90" height="11.84" fill="#ddd1d1"/>
<rect x="365.60" y="307.48" width="11.90" height="11.84" fill="#d6c1b4"/>
<rect x="377.00" y="307.48" width="11.40" height="11.84" fill="#d0b09b"/>
<rect x="274.40" y="318.82" width="11.90" height="11.84" fill="#779dc2"/>
<rect x="285.80" y="318.82" width="11.90" height="11.84" fill="#7da3c3"/>
<rect x="297.20" y="318.82" width="11.90" height="11.84" fill="#86aac4"/>
<rect x="308.60" y="318.82" width="11.90" height="11.84" fill="#95b5c7"/>
<rect x="320.00" y="318.82" width="11.90" height="11.84" fill="#acc2cc"/>
<rect x="331.40" y="318.82" width="11.90" height="11.84" fill="#cbd2d7"/>
<rect x="342.80" y="318.82" width="11.90" height="11.84" fill="#e2d9e2"/>
<rect x="354.20" y="318.82" width="11.90" height="11.84" fill="#dbcbc6"/>
<rect x="365.60" y="318.82" width="11.90" height="11.84" fill="#d1b6a3"/>
<rect x="377.00" y="318.82" width="11.40" height="11.84" fill="#cca389"/>
<rect x="274.40" y="330.16" width="11.90" height="11.84" fill="#6e91c0"/>
<rect x="285.80" y="330.16" width="11.90" height="11.84" fill="#7196c1"/>
<rect x="297.20" y="330.16" width="11.90" height="11.84" fill="#779dc2"/>
<rect x="308.60" y="330.16" width="11.90" height="11.84" fill="#81a6c3"/>
<rect x="320.00" y="330.16" width="11.90" height="11.84" fill="#95b5c7"/>
<rect x="331.40" y="330.16" width="11.90" height="11.84" fill="#bbcad1"/>
<rect x="342.80" y="330.16" width="11.90" height="11.84" fill="#e2d9e2"/>
<rect x="354.20" y="330.16" width="11.90" height="11.84" fill="#d6c1b4"/>
<rect x="365.60" y="330.16" width="11.90" height="11.84" fill="#cca389"/>
<rect x="377.00" y="330.16" width="11.40" height="11.84" fill="#c89073"/>
<rect x="274.40" y="341.50" width="11.90" height="11.84" fill="#6684bd"/>
<rect x="285.80" y="341.50" width="11.90" height="11.84" fill="#6887be"/>
<rect x="297.20" y="341.50" width="11.90" height="11.84" fill="#6a8bbf"/>
<rect x="308.60" y="341.50" width="11.90" height="11.84" fill="#6e91c0"/>
<rect x="320.00" y="341.50" width="11.90" height="11.84" fill="#779dc2"/>
<rect x="331.40" y="341.50" width="11.90" height="11.84" fill="#95b5c7"/>
<rect x="342.80" y="341.50" width="11.90" height="11.84" fill="#e2d9e2"/>
<rect x="354.20" y="341.50" width="11.90" height="11.84" fill="#cca389"/>
<rect x="365.60" y="341.50" width="11.90" height="11.84" fill="#c58468"/>
<rect x="377.00" y="341.50" width="11.40" height="11.84" fill="#c0755e"/>
<rect x="274.40" y="352.84" width="11.90" height="11.84" fill="#6276ba"/>
<rect x="285.80" y="352.84" width="11.90" height="11.84" fill="#6276ba"/>
<rect x="297.20" y="352.84" width="11.90" height="11.84" fill="#6276ba"/>
<rect x="308.60" y="352.84" width="11.90" height="11.84" fill="#6276ba"/>
<rect x="320.00" y="352.84" width="11.90" height="11.84" fill="#6276ba"/>
<rect x="331.40" y="352.84" width="11.90" height="11.84" fill="#6276ba"/>
<rect x="342.80" y="352.84" width="11.90" height="11.84" fill="#842550"/>
<rect x="354.20" y="352.84" width="11.90" height="11.84" fill="#b25652"/>
<rect x="365.60" y="352.84" width="11.90" height="11.84" fill="#b25652"/>
<rect x="377.00" y="352.84" width="11.40" height="11.84" fill="#b25652"/>
<rect x="274.40" y="364.18" width="11.90" height="11.84" fill="#6067b6"/>
<rect x="285.80" y="364.18" width="11.90" height="11.84" fill="#5f64b5"/>
<rect x="297.20" y="364.18" width="11.90" height="11.84" fill="#5f5fb3"/>
<rect x="308.60" y="364.18" width="11.90" height="11.84" fill="#5f58b0"/>
<rect x="320.00" y="364.18" width="11.90" height="11.84" fill="#5e49a9"/>
<rect x="331.40" y="364.18" width="11.90" height="11.84" fill="#592a8f"/>
<rect x="342.80" y="364.18" width="11.90" height="11.84" fill="#2f1436"/>
<rect x="354.20" y="364.18" width="11.90" height="11.84" fill="#741e4f"/>
<rect x="365.60" y="364.18" width="11.90" height="11.84" fill="#922f50"/>
<rect x="377.00" y="364.18" width="11.40" height="11.84" fill="#9e3b50"/>
<rect x="274.40" y="375.52" width="11.90" height="11.84" fill="#5f58b0"/>
<rect x="285.80" y="375.52" width="11.90" height="11.84" fill="#5e52ad"/>
<rect x="297.20" y="375.52" width="11.90" height="11.84" fill="#5e49a9"/>
<rect x="308.60" y="375.52" width="11.90" height="11.84" fill="#5d3da1"/>
<rect x="320.00" y="375.52" width="11.90" height="11.84" fill="#592a8f"/>
<rect x="331.40" y="375.52" width="11.90" height="11.84" fill="#4a1566"/>
<rect x="342.80" y="375.52" width="11.90" height="11.84" fill="#2f1436"/>
<rect x="354.20" y="375.52" width="11.90" height="11.84" fill="#521545"/>
<rect x="365.60" y="375.52" width="11.90" height="11.84" fill="#741e4f"/>
<rect x="377.00" y="375.52" width="11.40" height="11.84" fill="#872750"/>
<rect x="274.40" y="386.86" width="11.90" height="11.34" fill="#5e49a9"/>
<rect x="285.80" y="386.86" width="11.90" height="11.34" fill="#5d42a4"/>
<rect x="297.20" y="386.86" width="11.90" height="11.34" fill="#5c389d"/>
<rect x="308.60" y="386.86" width="11.90" height="11.34" fill="#592a8f"/>
<rect x="320.00" y="386.86" width="11.90" height="11.34" fill="#511b77"/>
<rect x="331.40" y="386.86" width="11.90" height="11.34" fill="#411254"/>
<rect x="342.80" y="386.86" width="11.90" height="11.34" fill="#2f1436"/>
<rect x="354.20" y="386.86" width="11.90" height="11.34" fill="#44123f"/>
<rect x="365.60" y="386.86" width="11.90" height="11.34" fill="#5f174a"/>
<rect x="377.00" y="386.86" width="11.40" height="11.34" fill="#741e4f"/>
<rect x="274.40" y="284.80" width="114.00" height="113.40" fill="none" stroke="#000" stroke-opacity="0.75" stroke-width="1"/>
<rect x="430.40" y="284.80" width="11.86" height="11.84" fill="#fdfdfd"/>
<rect x="441.76" y="284.80" width="11.86" height="11.84" fill="#fdfdfd"/>
<rect x="453.12" y="284.80" width="11.86" height="11.84" fill="#fdfdfd"/>
<rect x="464.48" y="284.80" width="11.86" height="11.84" fill="#fcfcfc"/>
<rect x="475.84" y="284.80" width="11.86" height="11.84" fill="#fcfcfc"/>
<rect x="487.20" y="284.80" width="11.86" height="11.84" fill="#fcfcfc"/>
<rect x="498.56" y="284.80" width="11.86" height="11.84" fill="#fcfcfc"/>
<rect x="509.92" y="284.80" width="11.86" height="11.84" fill="#fcfcfc"/>
<rect x="521.28" y="284.80" width="11.86" height="11.84" fill="#fcfcfc"/>
<rect x="532.64" y="284.80" width="11.36" height="11.84" fill="#fcfcfc"/>
<rect x="430.40" y="296.14" width="11.86" height="11.84" fill="#fdfdfd"/>
<rect x="441.76" y="296.14" width="11.86" height="11.84" fill="#fdfdfd"/>
<rect x="453.12" y="296.14" width="11.86" height="11.84" fill="#fcfcfc"/>
<rect x="464.48" y="296.14" width="11.86" height="11.84" fill="#fcfcfc"/>
<rect x="475.84" y="296.14" width="11.86" height="11.84" fill="#fbfbfb"/>
<rect x="487.20" y="296.14" width="11.86" height="11.84" fill="#fafafa"/>
<rect x="498.56" y="296.14" width="11.86" height="11.84" fill="#fafafa"/>
<rect x="509.92" y="296.14" width="11.86" height="11.84" fill="#fafafa"/>
<rect x="521.28" y="296.14" width="11.86" height="11.84" fill="#fbfbfb"/>
<rect x="532.64" y="296.14" width="11.36" height="11.84" fill="#fcfcfc"/>
<rect x="430.40" y="307.48" width="11.86" height="11.84" fill="#fdfdfd"/>
<rect x="441.76" y="307.48" width="11.86" height="11.84" fill="#fcfcfc"/>
<rect x="453.12" y="307.48" width="11.86" height="11.84" fill="#fbfbfb"/>
<rect x="464.48" y="307.48" width="11.86" height="11.84" fill="#fafafa"/>
<rect x="475.84" y="307.48" width="11.86" height="11.84" fill="#f9f9f9"/>
<rect x="487.20" y="307.48" width="11.86" height="11.84" fill="#f8f8f8"/>
<rect x="498.56" y="307.48" width="11.86" height="11.84" fill="#f8f8f8"/>
<rect x="509.92" y="307.48" width="11.86" height="11.84" fill="#f8f8f8"/>
<rect x="521.28" y="307.48" width="11.86" height="11.84" fill="#f9f9f9"/>
<rect x="532.64" y="307.48" width="11.36" height="11.84" fill="#fafafa"/>
<rect x="430.40" y="318.82" width="11.86" height="11.84" fill="#fcfcfc"/>
<rect x="441.76" y="318.82" width="11.86" height="11.84" fill="#fcfcfc"/>
<rect x="453.12" y="318.82" width="11.86" height="11.84" fill="#fafafa"/>
<rect x="464.48" y="318.82" width="11.86" height="11.84" fill="#f9f9f9"/>
<rect x="475.84" y="318.82" width="11.86" height="11.84" fill="#f6f6f6"/>
<rect x="487.20" y="318.82" width="11.86" height="11.84" fill="#f4f4f4"/>
<rect x="498.56" y="318.82" width="11.86" height="11.84" fill="#f3f3f3"/>
<rect x="509.92" y="318.82" width="11.86" height="11.84" fill="#f4f4f4"/>
<rect x="521.28" y="318.82" width="11.86" height="11.84" fill="#f6f6f6"/>
<rect x="532.64" y="318.82" width="11.36" height="11.84" fill="#f9f9f9"/>
<rect x="430.40" y="330.16" width="11.86" height="11.84" fill="#fcfcfc"/>
<rect x="441.76" y="330.16" width="11.86" height="11.84" fill="#fbfbfb"/>
<rect x="453.12" y="330.16" width="11.86" height="11.84" fill="#f9f9f9"/>
<rect x="464.48" y="330.16" width="11.86" height="11.84" fill="#f6f6f6"/>
<rect x="475.84" y="330.16" width="11.86" height="11.84" fill="#f1f1f1"/>
<rect x="487.20" y="330.16" width="11.86" height="11.84" fill="#eaeaea"/>
<rect x="498.56" y="330.16" width="11.86" height="11.84" fill="#e5e5e5"/>
<rect x="509.92" y="330.16" width="11.86" height="11.84" fill="#eaeaea"/>
<rect x="521.28" y="330.16" width="11.86" height="11.84" fill="#f1f1f1"/>
<rect x="532.64" y="330.16" width="11.36" height="11.84" fill="#f6f6f6"/>
<rect x="430.40" y="341.50" width="11.86" height="11.84" fill="#fcfcfc"/>
<rect x="441.76" y="341.50" width="11.86" height="11.84" fill="#fafafa"/>
<rect x="453.12" y="341.50" width="11.86" height="11.84" fill="#f8f8f8"/>
<rect x="464.48" y="341.50" width="11.86" height="11.84" fill="#f4f4f4"/>
<rect x="475.84" y="341.50" width="11.86" height="11.84" fill="#eaeaea"/>
<rect x="487.20" y="341.50" width="11.86" height="11.84" fill="#d2d2d2"/>
<rect x="498.56" y="341.50" width="11.86" height="11.84" fill="#b7b7b7"/>
<rect x="509.92" y="341.50" width="11.86" height="11.84" fill="#d2d2d2"/>
<rect x="521.28" y="341.50" width="11.86" height="11.84" fill="#eaeaea"/>
<rect x="532.64" y="341.50" width="11.36" height="11.84" fill="#f4f4f4"/>
<rect x="430.40" y="352.84" width="11.86" height="11.84" fill="#fcfcfc"/>
<rect x="441.76" y="352.84" width="11.86" height="11.84" fill="#fafafa"/>
<rect x="453.12" y="352.84" width="11.86" height="11.84" fill="#f8f8f8"/>
<rect x="464.48" y="352.84" width="11.86" height="11.84" fill="#f3f3f3"/>
<rect x="475.84" y="352.84" width="11.86" height="11.84" fill="#e5e5e5"/>
<rect x="487.20" y="352.84" width="11.86" height="11.84" fill="#b7b7b7"/>
<rect x="498.56" y="352.84" width="11.86" height="11.84" fill="#000000"/>
<rect x="509.92" y="352.84" width="11.86" height="11.84" fill="#b7b7b7"/>
<rect x="521.28" y="352.84" width="11.86" height="11.84" fill="#e5e5e5"/>
<rect x="532.64" y="352.84" width="11.36" height="11.84" fill="#f3f3f3"/>
<rect x="430.40" y="364.18" width="11.86" height="11.84" fill="#fcfcfc"/>
<rect x="441.76" y="364.18" width="11.86" height="11.84" fill="#fafafa"/>
<rect x="453.12" y="364.18" width="11.86" height="11.84" fill="#f8f8f8"/>
<rect x="464.48" y="364.18" width="11.86" height="11.84" fill="#f4f4f4"/>
<rect x="475.84" y="364.18" width="11.86" height="11.84" fill="#eaeaea"/>
<rect x="487.20" y="364.18" width="11.86" height="11.84" fill="#d2d2d2"/>
<rect x="498.56" y="364.18" width="11.86" height="11.84" fill="#b7b7b7"/>
<rect x="509.92" y="364.18" width="11.86" height="11.84" fill="#d2d2d2"/>
<rect x="521.28" y="364.18" width="11.86" height="11.84" fill="#eaeaea"/>
<rect x="532.64" y="364.18" width="11.36" height="11.84" fill="#f4f4f4"/>
<rect x="430.40" y="375.52" width="11.86" height="11.84" fill="#fcfcfc"/>
<rect x="441.76" y="375.52" width="11.86" height="11.84" fill="#fbfbfb"/>
<rect x="453.12" y="375.52" width="11.86" height="11.84" fill="#f9f9f9"/>
<rect x="464.48" y="375.52" width="11.86" height="11.84" fill="#f6f6f6"/>
<rect x="475.84" y="375.52" width="11.86" height="11.84" fill="#f1f1f1"/>
<rect x="487.20" y="375.52" width="11.86" height="11.84" fill="#eaeaea"/>
<rect x="498.56" y="375.52" width="11.86" height="11.84" fill="#e5e5e5"/>
<rect x="509.92" y="375.52" width="11.86" height="11.84" fill="#eaeaea"/>
<rect x="521.28" y="375.52" width="11.86" height="11.84" fill="#f1f1f1"/>
<rect x="532.64" y="375.52" width="11.36" height="11.84" fill="#f6f6f6"/>
<rect x="430.40" y="386.86" width="11.86" height="11.34" fill="#fcfcfc"/>
<rect x="441.76" y="386.86" width="11.86" height="11.34" fill="#fcfcfc"/>
<rect x="453.12" y="386.86" width="11.86" height="11.34" fill="#fafafa"/>
<rect x="464.48" y="386.86" width="11.86" height="11.34" fill="#f9f9f9"/>
<rect x="475.84" y="386.86" width="11.86" height="11.34" fill="#f6f6f6"/>
<rect x="487.20" y="386.86" width="11.86" height="11.34" fill="#f4f4f4"/>
<rect x="498.56" y="386.86" width="11.86" height="11.34" fill="#f3f3f3"/>
<rect x="509.92" y="386.86" width="11.86" height="11.34" fill="#f4f4f4"/>
<rect x="521.28" y="386.86" width="11.86" height="11.34" fill="#f6f6f6"/>
<rect x="532.64" y="386.86" width="11.36" height="11.34" fill="#f9f9f9"/>
<rect x="430.40" y="284.80" width="113.60" height="113.40" fill="none" stroke="#000" stroke-opacity="0.75" stroke-width="1"/>
<rect x="559.40" y="284.80" width="11.91" height="11.84" fill="#95b5c7"/>
<rect x="570.81" y="284.80" width="11.91" height="11.84" fill="#9ebbc9"/>
<rect x="582.22" y="284.80" width="11.91" height="11.84" fill="#acc2cc"/>
<rect x="593.63" y="284.80" width="11.91" height="11.84" fill="#bbcad1"/>
<rect x="605.04" y="284.80" width="11.91" height="11.84" fill="#cbd2d7"/>
<rect x="616.45" y="284.80" width="11.91" height="11.84" fill="#d9d8de"/>
<rect x="627.86" y="284.80" width="11.91" height="11.84" fill="#e2d9e2"/>
<rect x="639.27" y="284.80" width="11.91" height="11.84" fill="#dfd5d8"/>
<rect x="650.68" y="284.80" width="11.91" height="11.84" fill="#dbcbc6"/>
<rect x="662.09" y="284.80" width="11.41" height="11.84" fill="#d6c1b4"/>
<rect x="559.40" y="296.14" width="11.91" height="11.84" fill="#8aaec5"/>
<rect x="570.81" y="296.14" width="11.91" height="11.84" fill="#95b5c7"/>
<rect x="582.22" y="296.14" width="11.91" height="11.84" fill="#a1bdc9"/>
<rect x="593.63" y="296.14" width="11.91" height="11.84" fill="#b2c6ce"/>
<rect x="605.04" y="296.14" width="11.91" height="11.84" fill="#c5cfd5"/>
<rect x="616.45" y="296.14" width="11.91" height="11.84" fill="#d6d7dd"/>
<rect x="627.86" y="296.14" width="11.91" height="11.84" fill="#e2d9e2"/>
<rect x="639.27" y="296.14" width="11.91" height="11.84" fill="#ded3d4"/>
<rect x="650.68" y="296.14" width="11.91" height="11.84" fill="#d9c8c0"/>
<rect x="662.09" y="296.14" width="11.41" height="11.84" fill="#d3baaa"/>
<rect x="559.40" y="307.48" width="11.91" height="11.84" fill="#81a6c3"/>
<rect x="570.81" y="307.48" width="11.91" height="11.84" fill="#89adc5"/>
<rect x="582.22" y="307.48" width="11.91" height="11.84" fill="#95b5c7"/>
<rect x="593.63" y="307.48" width="11.91" height="11.84" fill="#a4beca"/>
<rect x="605.04" y="307.48" width="11.91" height="11.84" fill="#bbcad1"/>
<rect x="616.45" y="307.48" width="11.91" height="11.84" fill="#d3d6db"/>
<rect x="627.86" y="307.48" width="11.91" height="11.84" fill="#e2d9e2"/>
<rect x="639.27" y="307.48" width="11.91" height="11.84" fill="#ddd1d1"/>
<rect x="650.68" y="307.48" width="11.91" height="11.84" fill="#d6c1b4"/>
<rect x="662.09" y="307.48" width="11.41" height="11.84" fill="#d0b09b"/>
<rect x="559.40" y="318.82" width="11.91" height="11.84" fill="#779dc2"/>
<rect x="570.81" y="318.82" width="11.91" height="11.84" fill="#7da3c3"/>
<rect x="582.22" y="318.82" width="11.91" height="11.84" fill="#86aac4"/>
<rect x="593.63" y="318.82" width="11.91" height="11.84" fill="#95b5c7"/>
<rect x="605.04" y="318.82" width="11.91" height="11.84" fill="#acc2cc"/>
<rect x="616.45" y="318.82" width="11.91" height="11.84" fill="#cbd2d7"/>
<rect x="627.86" y="318.82" width="11.91" height="11.84" fill="#e2d9e2"/>
<rect x="639.27" y="318.82" width="11.91" height="11.84" fill="#dbcbc6"/>
<rect x="650.68" y="318.82" width="11.91" height="11.84" fill="#d1b6a3"/>
<rect x="662.09" y="318.82" width="11.41" height="11.84" fill="#cca389"/>
<rect x="559.40" y="330.16" width="11.91" height="11.84" fill="#6e91c0"/>
<rect x="570.81" y="330.16" width="11.91" height="11.84" fill="#7196c1"/>
<rect x="582.22" y="330.16" width="11.91" height="11.84" fill="#779dc2"/>
<rect x="593.63" y="330.16" width="11.91" height="11.84" fill="#81a6c3"/>
<rect x="605.04" y="330.16" width="11.91" height="11.84" fill="#95b5c7"/>
<rect x="616.45" y="330.16" width="11.91" height="11.84" fill="#bbcad1"/>
<rect x="627.86" y="330.16" width="11.91" height="11.84" fill="#e2d9e2"/>
<rect x="639.27" y="330.16" width="11.91" height="11.84" fill="#d6c1b4"/>
<rect x="650.68" y="330.16" width="11.91" height="11.84" fill="#cca389"/>
<rect x="662.09" y="330.16" width="11.41" height="11.84" fill="#c89073"/>
<rect x="559.40" y="341.50" width="11.91" height="11.84" fill="#6684bd"/>
<rect x="570.81" y="341.50" width="11.91" height="11.84" fill="#6887be"/>
<rect x="582.22" y="341.50" width="11.91" height="11.84" fill="#6a8bbf"/>
<rect x="593.63" y="341.50" width="11.91" height="11.84" fill="#6e91c0"/>
<rect x="605.04" y="341.50" width="11.91" height="11.84" fill="#779dc2"/>
<rect x="616.45" y="341.50" width="11.91" height="11.84" fill="#95b5c7"/>
<rect x="627.86" y="341.50" width="11.91" height="11.84" fill="#e2d9e2"/>
<rect x="639.27" y="341.50" width="11.91" height="11.84" fill="#cca389"/>
<rect x="650.68" y="341.50" width="11.91" height="11.84" fill="#c58468"/>
<rect x="662.09" y="341.50" width="11.41" height="11.84" fill="#c0755e"/>
<rect x="559.40" y="352.84" width="11.91" height="11.84" fill="#6276ba"/>
<rect x="570.81" y="352.84" width="11.91" height="11.84" fill="#6276ba"/>
<rect x="582.22" y="352.84" width="11.91" height="11.84" fill="#6276ba"/>
<rect x="593.63" y="352.84" width="11.91" height="11.84" fill="#6276ba"/>
<rect x="605.04" y="352.84" width="11.91" height="11.84" fill="#6276ba"/>
<rect x="616.45" y="352.84" width="11.91" height="11.84" fill="#6276ba"/>
<rect x="627.86" y="352.84" width="11.91" height="11.84" fill="#3a1148"/>
<rect x="639.27" y="352.84" width="11.91" height="11.84" fill="#b25652"/>
<rect x="650.68" y="352.84" width="11.91" height="11.84" fill="#b25652"/>
<rect x="662.09" y="352.84" width="11.41" height="11.84" fill="#b25652"/>
<rect x="559.40" y="364.18" width="11.91" height="11.84" fill="#6067b6"/>
<rect x="570.81" y="364.18" width="11.91" height="11.84" fill="#5f64b5"/>
<rect x="582.22" y="364.18" width="11.91" height="11.84" fill="#5f5fb3"/>
<rect x="593.63" y="364.18" width="11.91" height="11.84" fill="#5f58b0"/>
<rect x="605.04" y="364.18" width="11.91" height="11.84" fill="#5e49a9"/>
<rect x="616.45" y="364.18" width="11.91" height="11.84" fill="#592a8f"/>
<rect x="627.86" y="364.18" width="11.91" height="11.84" fill="#2f1436"/>
<rect x="639.27" y="364.18" width="11.91" height="11.84" fill="#741e4f"/>
<rect x="650.68" y="364.18" width="11.91" height="11.84" fill="#922f50"/>
<rect x="662.09" y="364.18" width="11.41" height="11.84" fill="#9e3b50"/>
<rect x="559.40" y="375.52" width="11.91" height="11.84" fill="#5f58b0"/>
<rect x="570.81" y="375.52" width="11.91" height="11.84" fill="#5e52ad"/>
<rect x="582.22" y="375.52" width="11.91" height="11.84" fill="#5e49a9"/>
<rect x="593.63" y="375.52" width="11.91" height="11.84" fill="#5d3da1"/>
<rect x="605.04" y="375.52" width="11.91" height="11.84" fill="#592a8f"/>
<rect x="616.45" y="375.52" width="11.91" height="11.84" fill="#4a1566"/>
<rect x="627.86" y="375.52" width="11.91" height="11.84" fill="#2f1436"/>
<rect x="639.27" y="375.52" width="11.91" height="11.84" fill="#521545"/>
<rect x="650.68" y="375.52" width="11.91" height="11.84" fill="#741e4f"/>
<rect x="662.09" y="375.52" width="11.41" height="11.84" fill="#872750"/>
<rect x="559.40" y="386.86" width="11.91" height="11.34" fill="#5e49a9"/>
<rect x="570.81" y="386.86" width="11.91" height="11.34" fill="#5d42a4"/>
<rect x="582.22" y="386.86" width="11.91" height="11.34" fill="#5c389d"/>
<rect x="593.63" y="386.86" width="11.91" height="11.34" fill="#592a8f"/>
<rect x="605.04" y="386.86" width="11.91" height="11.34" fill="#511b77"/>
<rect x="616.45" y="386.86" width="11.91" height="11.34" fill="#411254"/>
<rect x="627.86" y="386.86" width="11.91" height="11.34" fill="#2f1436"/>
<rect x="639.27" y="386.86" width="11.91" height="11.34" fill="#44123f"/>
<rect x="650.68" y="386.86" width="11.91" height="11.34" fill="#5f174a"/>
<rect x="662.09" y="386.86" width="11.41" height="11.34" fill="#741e4f"/>
<rect x="559.40" y="284.80" width="114.10" height="113.40" fill="none" stroke="#000" stroke-opacity="0.75" stroke-width="1"/>
<rect x="146.50" y="461.90" width="11.80" height="11.84" fill="#fdfdfd"/>
<rect x="157.80" y="461.90" width="11.80" height="11.84" fill="#fdfdfd"/>
<rect x="169.10" y="461.90" width="11.80" height="11.84" fill="#fdfdfd"/>
<rect x="180.40" y="461.90" width="11.80" height="11.84" fill="#fcfcfc"/>
<rect x="191.70" y="461.90" width="11.80" height="11.84" fill="#fcfcfc"/>
<rect x="203.00" y="461.90" width="11.80" height="11.84" fill="#fcfcfc"/>
<rect x="214.30" y="461.90" width="11.80" height="11.84" fill="#fcfcfc"/>
<rect x="225.60" y="461.90" width="11.80" height="11.84" fill="#fcfcfc"/>
<rect x="236.90" y="461.90" width="11.80" height="11.84" fill="#fcfcfc"/>
<rect x="248.20" y="461.90" width="11.30" height="11.84" fill="#fcfcfc"/>
<rect x="146.50" y="473.24" width="11.80" height="11.84" fill="#fdfdfd"/>
<rect x="157.80" y="473.24" width="11.80" height="11.84" fill="#fdfdfd"/>
<rect x="169.10" y="473.24" width="11.80" height="11.84" fill="#fcfcfc"/>
<rect x="180.40" y="473.24" width="11.80" height="11.84" fill="#fcfcfc"/>
<rect x="191.70" y="473.24" width="11.80" height="11.84" fill="#fbfbfb"/>
<rect x="203.00" y="473.24" width="11.80" height="11.84" fill="#fafafa"/>
<rect x="214.30" y="473.24" width="11.80" height="11.84" fill="#fafafa"/>
<rect x="225.60" y="473.24" width="11.80" height="11.84" fill="#fafafa"/>
<rect x="236.90" y="473.24" width="11.80" height="11.84" fill="#fbfbfb"/>
<rect x="248.20" y="473.24" width="11.30" height="11.84" fill="#fcfcfc"/>
<rect x="146.50" y="484.58" width="11.80" height="11.84" fill="#fdfdfd"/>
<rect x="157.80" y="484.58" width="11.80" height="11.84" fill="#fcfcfc"/>
<rect x="169.10" y="484.58" width="11.80" height="11.84" fill="#fbfbfb"/>
<rect x="180.40" y="484.58" width="11.80" height="11.84" fill="#fafafa"/>
<rect x="191.70" y="484.58" width="11.80" height="11.84" fill="#f9f9f9"/>
<rect x="203.00" y="484.58" width="11.80" height="11.84" fill="#f8f8f8"/>
<rect x="214.30" y="484.58" width="11.80" height="11.84" fill="#f8f8f8"/>
<rect x="225.60" y="484.58" width="11.80" height="11.84" fill="#f8f8f8"/>
<rect x="236.90" y="484.58" width="11.80" height="11.84" fill="#f9f9f9"/>
<rect x="248.20" y="484.58" width="11.30" height="11.84" fill="#fafafa"/>
<rect x="146.50" y="495.92" width="11.80" height="11.84" fill="#fcfcfc"/>
<rect x="157.80" y="495.92" width="11.80" height="11.84" fill="#fcfcfc"/>
<rect x="169.10" y="495.92" width="11.80" height="11.84" fill="#fafafa"/>
<rect x="180.40" y="495.92" width="11.80" height="11.84" fill="#f9f9f9"/>
<rect x="191.70" y="495.92" width="11.80" height="11.84" fill="#f6f6f6"/>
<rect x="203.00" y="495.92" width="11.80" height="11.84" fill="#f4f4f4"/>
<rect x="214.30" y="495.92" width="11.80" height="11.84" fill="#f3f3f3"/>
<rect x="225.60" y="495.92" width="11.80" height="11.84" fill="#f4f4f4"/>
<rect x="236.90" y="495.92" width="11.80" height="11.84" fill="#f6f6f6"/>
<rect x="248.20" y="495.92" width="11.30" height="11.84" fill="#f9f9f9"/>
<rect x="146.50" y="507.26" width="11.80" height="11.84" fill="#fcfcfc"/>
<rect x="157.80" y="507.26" width="11.80" height="11.84" fill="#fbfbfb"/>
<rect x="169.10" y="507.26" width="11.80" height="11.84" fill="#f9f9f9"/>
<rect x="180.40" y="507.26" width="11.80" height="11.84" fill="#f6f6f6"/>
<rect x="191.70" y="507.26" width="11.80" height="11.84" fill="#f1f1f1"/>
<rect x="203.00" y="507.26" width="11.80" height="11.84" fill="#eaeaea"/>
<rect x="214.30" y="507.26" width="11.80" height="11.84" fill="#e5e5e5"/>
<rect x="225.60" y="507.26" width="11.80" height="11.84" fill="#eaeaea"/>
<rect x="236.90" y="507.26" width="11.80" height="11.84" fill="#f1f1f1"/>
<rect x="248.20" y="507.26" width="11.30" height="11.84" fill="#f6f6f6"/>
<rect x="146.50" y="518.60" width="11.80" height="11.84" fill="#fcfcfc"/>
<rect x="157.80" y="518.60" width="11.80" height="11.84" fill="#fafafa"/>
<rect x="169.10" y="518.60" width="11.80" height="11.84" fill="#f8f8f8"/>
<rect x="180.40" y="518.60" width="11.80" height="11.84" fill="#f4f4f4"/>
<rect x="191.70" y="518.60" width="11.80" height="11.84" fill="#eaeaea"/>
<rect x="203.00" y="518.60" width="11.80" height="11.84" fill="#d2d2d2"/>
<rect x="214.30" y="518.60" width="11.80" height="11.84" fill="#b7b7b7"/>
<rect x="225.60" y="518.60" width="11.80" height="11.84" fill="#d2d2d2"/>
<rect x="236.90" y="518.60" width="11.80" height="11.84" fill="#eaeaea"/>
<rect x="248.20" y="518.60" width="11.30" height="11.84" fill="#f4f4f4"/>
<rect x="146.50" y="529.94" width="11.80" height="11.84" fill="#fcfcfc"/>
<rect x="157.80" y="529.94" width="11.80" height="11.84" fill="#fafafa"/>
<rect x="169.10" y="529.94" width="11.80" height="11.84" fill="#f8f8f8"/>
<rect x="180.40" y="529.94" width="11.80" height="11.84" fill="#f3f3f3"/>
<rect x="191.70" y="529.94" width="11.80" height="11.84" fill="#e5e5e5"/>
<rect x="203.00" y="529.94" width="11.80" height="11.84" fill="#b7b7b7"/>
<rect x="214.30" y="529.94" width="11.80" height="11.84" fill="#000000"/>
<rect x="225.60" y="529.94" width="11.80" height="11.84" fill="#b7b7b7"/>
<rect x="236.90" y="529.94" width="11.80" height="11.84" fill="#e5e5e5"/>
<rect x="248.20" y="529.94" width="11.30" height="11.84" fill="#f3f3f3"/>
<rect x="146.50" y="541.28" width="11.80" height="11.84" fill="#fcfcfc"/>
<rect x="157.80" y="541.28" width="11.80" height="11.84" fill="#fafafa"/>
<rect x="169.10" y="541.28" width="11.80" height="11.84" fill="#f8f8f8"/>
<rect x="180.40" y="541.28" width="11.80" height="11.84" fill="#f4f4f4"/>
<rect x="191.70" y="541.28" width="11.80" height="11.84" fill="#eaeaea"/>
<rect x="203.00" y="541.28" width="11.80" height="11.84" fill="#d2d2d2"/>
<rect x="214.30" y="541.28" width="11.80" height="11.84" fill="#b7b7b7"/>
<rect x="225.60" y="541.28" width="11.80" height="11.84" fill="#d2d2d2"/>
<rect x="236.90" y="541.28" width="11.80" height="11.84" fill="#eaeaea"/>
<rect x="248.20" y="541.28" width="11.30" height="11.84" fill="#f4f4f4"/>
<rect x="146.50" y="552.62" width="11.80" height="11.84" fill="#fcfcfc"/>
<rect x="157.80" y="552.62" width="11.80" height="11.84" fill="#fbfbfb"/>
<rect x="169.10" y="552.62" width="11.80" height="11.84" fill="#f9f9f9"/>
<rect x="180.40" y="552.62" width="11.80" height="11.84" fill="#f6f6f6"/>
<rect x="191.70" y="552.62" width="11.80" height="11.84" fill="#f1f1f1"/>
<rect x="203.00" y="552.62" width="11.80" height="11.84" fill="#eaeaea"/>
<rect x="214.30" y="552.62" width="11.80" height="11.84" fill="#e5e5e5"/>
<rect x="225.60" y="552.62" width="11.80" height="11.84" fill="#eaeaea"/>
<rect x="236.90" y="552.62" width="11.80" height="11.84" fill="#f1f1f1"/>
<rect x="248.20" y="552.62" width="11.30" height="11.84" fill="#f6f6f6"/>
<rect x="146.50" y="563.96" width="11.80" height="11.34" fill="#fcfcfc"/>
<rect x="157.80" y="563.96" width="11.80" height="11.34" fill="#fcfcfc"/>
<rect x="169.10" y="563.96" width="11.80" height="11.34" fill="#fafafa"/>
<rect x="180.40" y="563.96" width="11.80" height="11.34" fill="#f9f9f9"/>
<rect x="191.70" y="563.96" width="11.80" height="11.34" fill="#f6f6f6"/>
<rect x="203.00" y="563.96" width="11.80" height="11.34" fill="#f4f4f4"/>
<rect x="214.30" y="563.96" width="11.80" height="11.34" fill="#f3f3f3"/>
<rect x="225.60" y="563.96" width="11.80" height="11.34" fill="#f4f4f4"/>
<rect x="236.90" y="563.96" width="11.80" height="11.34" fill="#f6f6f6"/>
<rect x="248.20" y="563.96" width="11.30" height="11.34" fill="#f9f9f9"/>
<rect x="146.50" y="461.90" width="113.00" height="113.40" fill="none" stroke="#000" stroke-opacity="0.75" stroke-width="1"/>
<rect x="274.40" y="461.60" width="11.90" height="11.88" fill="#95b5c7"/>
<rect x="285.80" y="461.60" width="11.90" height="11.88" fill="#9ebbc9"/>
<rect x="297.20" y="461.60" width="11.90" height="11.88" fill="#acc2cc"/>
<rect x="308.60" y="461.60" width="11.90" height="11.88" fill="#bbcad1"/>
<rect x="320.00" y="461.60" width="11.90" height="11.88" fill="#cbd2d7"/>
<rect x="331.40" y="461.60" width="11.90" height="11.88" fill="#d9d8de"/>
<rect x="342.80" y="461.60" width="11.90" height="11.88" fill="#e2d9e2"/>
<rect x="354.20" y="461.60" width="11.90" height="11.88" fill="#dfd5d8"/>
<rect x="365.60" y="461.60" width="11.90" height="11.88" fill="#dbcbc6"/>
<rect x="377.00" y="461.60" width="11.40" height="11.88" fill="#d6c1b4"/>
<rect x="274.40" y="472.98" width="11.90" height="11.88" fill="#8aaec5"/>
<rect x="285.80" y="472.98" width="11.90" height="11.88" fill="#95b5c7"/>
<rect x="297.20" y="472.98" width="11.90" height="11.88" fill="#a1bdc9"/>
<rect x="308.60" y="472.98" width="11.90" height="11.88" fill="#b2c6ce"/>
<rect x="320.00" y="472.98" width="11.90" height="11.88" fill="#c5cfd5"/>
<rect x="331.40" y="472.98" width="11.90" height="11.88" fill="#d6d7dd"/>
<rect x="342.80" y="472.98" width="11.90" height="11.88" fill="#e2d9e2"/>
<rect x="354.20" y="472.98" width="11.90" height="11.88" fill="#ded3d4"/>
<rect x="365.60" y="472.98" width="11.90" height="11.88" fill="#d9c8c0"/>
<rect x="377.00" y="472.98" width="11.40" height="11.88" fill="#d3baaa"/>
<rect x="274.40" y="484.36" width="11.90" height="11.88" fill="#81a6c3"/>
<rect x="285.80" y="484.36" width="11.90" height="11.88" fill="#89adc5"/>
<rect x="297.20" y="484.36" width="11.90" height="11.88" fill="#95b5c7"/>
<rect x="308.60" y="484.36" width="11.90" height="11.88" fill="#a4beca"/>
<rect x="320.00" y="484.36" width="11.90" height="11.88" fill="#bbcad1"/>
<rect x="331.40" y="484.36" width="11.90" height="11.88" fill="#d3d6db"/>
<rect x="342.80" y="484.36" width="11.90" height="11.88" fill="#e2d9e2"/>
<rect x="354.20" y="484.36" width="11.90" height="11.88" fill="#ddd1d1"/>
<rect x="365.60" y="484.36" width="11.90" height="11.88" fill="#d6c1b4"/>
<rect x="377.00" y="484.36" width="11.40" height="11.88" fill="#d0b09b"/>
<rect x="274.40" y="495.74" width="11.90" height="11.88" fill="#779dc2"/>
<rect x="285.80" y="495.74" width="11.90" height="11.88" fill="#7da3c3"/>
<rect x="297.20" y="495.74" width="11.90" height="11.88" fill="#86aac4"/>
<rect x="308.60" y="495.74" width="11.90" height="11.88" fill="#95b5c7"/>
<rect x="320.00" y="495.74" width="11.90" height="11.88" fill="#acc2cc"/>
<rect x="331.40" y="495.74" width="11.90" height="11.88" fill="#cbd2d7"/>
<rect x="342.80" y="495.74" width="11.90" height="11.88" fill="#e2d9e2"/>
<rect x="354.20" y="495.74" width="11.90" height="11.88" fill="#dbcbc6"/>
<rect x="365.60" y="495.74" width="11.90" height="11.88" fill="#d1b6a3"/>
<rect x="377.00" y="495.74" width="11.40" height="11.88" fill="#cca389"/>
<rect x="274.40" y="507.12" width="11.90" height="11.88" fill="#6e91c0"/>
<rect x="285.80" y="507.12" width="11.90" height="11.88" fill="#7196c1"/>
<rect x="297.20" y="507.12" width="11.90" height="11.88" fill="#779dc2"/>
<rect x="308.60" y="507.12" width="11.90" height="11.88" fill="#81a6c3"/>
<rect x="320.00" y="507.12" width="11.90" height="11.88" fill="#95b5c7"/>
<rect x="331.40" y="507.12" width="11.90" height="11.88" fill="#bbcad1"/>
<rect x="342.80" y="507.12" width="11.90" height="11.88" fill="#e2d9e2"/>
<rect x="354.20" y="507.12" width="11.90" height="11.88" fill="#d6c1b4"/>
<rect x="365.60" y="507.12" width="11.90" height="11.88" fill="#cca389"/>
<rect x="377.00" y="507.12" width="11.40" height="11.88" fill="#c89073"/>
<rect x="274.40" y="518.50" width="11.90" height="11.88" fill="#6684bd"/>
<rect x="285.80" y="518.50" width="11.90" height="11.88" fill="#6887be"/>
<rect x="297.20" y="518.50" width="11.90" height="11.88" fill="#6a8bbf"/>
<rect x="308.60" y="518.50" width="11.90" height="11.88" fill="#6e91c0"/>
<rect x="320.00" y="518.50" width="11.90" height="11.88" fill="#779dc2"/>
<rect x="331.40" y="518.50" width="11.90" height="11.88" fill="#95b5c7"/>
<rect x="342.80" y="518.50" width="11.90" height="11.88" fill="#e2d9e2"/>
<rect x="354.20" y="518.50" width="11.90" height="11.88" fill="#cca389"/>
<rect x="365.60" y="518.50" width="11.90" height="11.88" fill="#c58468"/>
<rect x="377.00" y="518.50" width="11.40" height="11.88" fill="#c0755e"/>
<rect x="274.40" y="529.88" width="11.90" height="11.88" fill="#6276ba"/>
<rect x="285.80" y="529.88" width="11.90" height="11.88" fill="#6276ba"/>
<rect x="297.20" y="529.88" width="11.90" height="11.88" fill="#6276ba"/>
<rect x="308.60" y="529.88" width="11.90" height="11.88" fill="#6276ba"/>
<rect x="320.00" y="529.88" width="11.90" height="11.88" fill="#6276ba"/>
<rect x="331.40" y="529.88" width="11.90" height="11.88" fill="#6276ba"/>
<rect x="342.80" y="529.88" width="11.90" height="11.88" fill="#7398c1"/>
<rect x="354.20" y="529.88" width="11.90" height="11.88" fill="#b25652"/>
<rect x="365.60" y="529.88" width="11.90" height="11.88" fill="#b25652"/>
<rect x="377.00" y="529.88" width="11.40" height="11.88" fill="#b25652"/>
<rect x="274.40" y="541.26" width="11.90" height="11.88" fill="#6067b6"/>
<rect x="285.80" y="541.26" width="11.90" height="11.88" fill="#5f64b5"/>
<rect x="297.20" y="541.26" width="11.90" height="11.88" fill="#5f5fb3"/>
<rect x="308.60" y="541.26" width="11.90" height="11.88" fill="#5f58b0"/>
<rect x="320.00" y="541.26" width="11.90" height="11.88" fill="#5e49a9"/>
<rect x="331.40" y="541.26" width="11.90" height="11.88" fill="#592a8f"/>
<rect x="342.80" y="541.26" width="11.90" height="11.88" fill="#2f1436"/>
<rect x="354.20" y="541.26" width="11.90" height="11.88" fill="#741e4f"/>
<rect x="365.60" y="541.26" width="11.90" height="11.88" fill="#922f50"/>
<rect x="377.00" y="541.26" width="11.40" height="11.88" fill="#9e3b50"/>
<rect x="274.40" y="552.64" width="11.90" height="11.88" fill="#5f58b0"/>
<rect x="285.80" y="552.64" width="11.90" height="11.88" fill="#5e52ad"/>
<rect x="297.20" y="552.64" width="11.90" height="11.88" fill="#5e49a9"/>
<rect x="308.60" y="552.64" width="11.90" height="11.88" fill="#5d3da1"/>
<rect x="320.00" y="552.64" width="11.90" height="11.88" fill="#592a8f"/>
<rect x="331.40" y="552.64" width="11.90" height="11.88" fill="#4a1566"/>
<rect x="342.80" y="552.64" width="11.90" height="11.88" fill="#2f1436"/>
<rect x="354.20" y="552.64" width="11.90" height="11.88" fill="#521545"/>
<rect x="365.60" y="552.64" width="11.90" height="11.88" fill="#741e4f"/>
<rect x="377.00" y="552.64" width="11.40" height="11.88" fill="#872750"/>
<rect x="274.40" y="564.02" width="11.90" height="11.38" fill="#5e49a9"/>
<rect x="285.80" y="564.02" width="11.90" height="11.38" fill="#5d42a4"/>
<rect x="297.20" y="564.02" width="11.90" height="11.38" fill="#5c389d"/>
<rect x="308.60" y="564.02" width="11.90" height="11.38" fill="#592a8f"/>
<rect x="320.00" y="564.02" width="11.90" height="11.38" fill="#511b77"/>
<rect x="331.40" y="564.02" width="11.90" height="11.38" fill="#411254"/>
<rect x="342.80" y="564.02" width="11.90" height="11.38" fill="#2f1436"/>
<rect x="354.20" y="564.02" width="11.90" height="11.38" fill="#44123f"/>
<rect x="365.60" y="564.02" width="11.90" height="11.38" fill="#5f174a"/>
<rect x="377.00" y="564.02" width="11.40" height="11.38" fill="#741e4f"/>
<rect x="274.40" y="461.60" width="114.00" height="113.80" fill="none" stroke="#000" stroke-opacity="0.75" stroke-width="1"/>
<rect x="430.40" y="461.00" width="11.86" height="11.86" fill="#fdfdfd"/>
<rect x="441.76" y="461.00" width="11.86" height="11.86" fill="#fdfdfd"/>
<rect x="453.12" y="461.00" width="11.86" height="11.86" fill="#fdfdfd"/>
<rect x="464.48" y="461.00" width="11.86" height="11.86" fill="#fcfcfc"/>
<rect x="475.84" y="461.00" width="11.86" height="11.86" fill="#fcfcfc"/>
<rect x="487.20" y="461.00" width="11.86" height="11.86" fill="#fcfcfc"/>
<rect x="498.56" y="461.00" width="11.86" height="11.86" fill="#fcfcfc"/>
<rect x="509.92" y="461.00" width="11.86" height="11.86" fill="#fcfcfc"/>
<rect x="521.28" y="461.00" width="11.86" height="11.86" fill="#fcfcfc"/>
<rect x="532.64" y="461.00" width="11.36" height="11.86" fill="#fcfcfc"/>
<rect x="430.40" y="472.36" width="11.86" height="11.86" fill="#fdfdfd"/>
<rect x="441.76" y="472.36" width="11.86" height="11.86" fill="#fdfdfd"/>
<rect x="453.12" y="472.36" width="11.86" height="11.86" fill="#fcfcfc"/>
<rect x="464.48" y="472.36" width="11.86" height="11.86" fill="#fcfcfc"/>
<rect x="475.84" y="472.36" width="11.86" height="11.86" fill="#fbfbfb"/>
<rect x="487.20" y="472.36" width="11.86" height="11.86" fill="#fafafa"/>
<rect x="498.56" y="472.36" width="11.86" height="11.86" fill="#fafafa"/>
<rect x="509.92" y="472.36" width="11.86" height="11.86" fill="#fafafa"/>
<rect x="521.28" y="472.36" width="11.86" height="11.86" fill="#fbfbfb"/>
<rect x="532.64" y="472.36" width="11.36" height="11.86" fill="#fcfcfc"/>
<rect x="430.40" y="483.72" width="11.86" height="11.86" fill="#fdfdfd"/>
<rect x="441.76" y="483.72" width="11.86" height="11.86" fill="#fcfcfc"/>
<rect x="453.12" y="483.72" width="11.86" height="11.86" fill="#fbfbfb"/>
<rect x="464.48" y="483.72" width="11.86" height="11.86" fill="#fafafa"/>
<rect x="475.84" y="483.72" width="11.86" height="11.86" fill="#f9f9f9"/>
<rect x="487.20" y="483.72" width="11.86" height="11.86" fill="#f8f8f8"/>
<rect x="498.56" y="483.72" width="11.86" height="11.86" fill="#f8f8f8"/>
<rect x="509.92" y="483.72" width="11.86" height="11.86" fill="#f8f8f8"/>
<rect x="521.28" y="483.72" width="11.86" height="11.86" fill="#f9f9f9"/>
<rect x="532.64" y="483.72" width="11.36" height="11.86" fill="#fafafa"/>
<rect x="430.40" y="495.08" width="11.86" height="11.86" fill="#fcfcfc"/>
<rect x="441.76" y="495.08" width="11.86" height="11.86" fill="#fcfcfc"/>
<rect x="453.12" y="495.08" width="11.86" height="11.86" fill="#fafafa"/>
<rect x="464.48" y="495.08" width="11.86" height="11.86" fill="#f9f9f9"/>
<rect x="475.84" y="495.08" width="11.86" height="11.86" fill="#f6f6f6"/>
<rect x="487.20" y="495.08" width="11.86" height="11.86" fill="#f4f4f4"/>
<rect x="498.56" y="495.08" width="11.86" height="11.86" fill="#f3f3f3"/>
<rect x="509.92" y="495.08" width="11.86" height="11.86" fill="#f4f4f4"/>
<rect x="521.28" y="495.08" width="11.86" height="11.86" fill="#f6f6f6"/>
<rect x="532.64" y="495.08" width="11.36" height="11.86" fill="#f9f9f9"/>
<rect x="430.40" y="506.44" width="11.86" height="11.86" fill="#fcfcfc"/>
<rect x="441.76" y="506.44" width="11.86" height="11.86" fill="#fbfbfb"/>
<rect x="453.12" y="506.44" width="11.86" height="11.86" fill="#f9f9f9"/>
<rect x="464.48" y="506.44" width="11.86" height="11.86" fill="#f6f6f6"/>
<rect x="475.84" y="506.44" width="11.86" height="11.86" fill="#f1f1f1"/>
<rect x="487.20" y="506.44" width="11.86" height="11.86" fill="#eaeaea"/>
<rect x="498.56" y="506.44" width="11.86" height="11.86" fill="#e5e5e5"/>
<rect x="509.92" y="506.44" width="11.86" height="11.86" fill="#eaeaea"/>
<rect x="521.28" y="506.44" width="11.86" height="11.86" fill="#f1f1f1"/>
<rect x="532.64" y="506.44" width="11.36" height="11.86" fill="#f6f6f6"/>
<rect x="430.40" y="517.80" width="11.86" height="11.86" fill="#fcfcfc"/>
<rect x="441.76" y="517.80" width="11.86" height="11.86" fill="#fafafa"/>
<rect x="453.12" y="517.80" width="11.86" height="11.86" fill="#f8f8f8"/>
<rect x="464.48" y="517.80" width="11.86" height="11.86" fill="#f4f4f4"/>
<rect x="475.84" y="517.80" width="11.86" height="11.86" fill="#eaeaea"/>
<rect x="487.20" y="517.80" width="11.86" height="11.86" fill="#d2d2d2"/>
<rect x="498.56" y="517.80" width="11.86" height="11.86" fill="#b7b7b7"/>
<rect x="509.92" y="517.80" width="11.86" height="11.86" fill="#d2d2d2"/>
<rect x="521.28" y="517.80" width="11.86" height="11.86" fill="#eaeaea"/>
<rect x="532.64" y="517.80" width="11.36" height="11.86" fill="#f4f4f4"/>
<rect x="430.40" y="529.16" width="11.86" height="11.86" fill="#fcfcfc"/>
<rect x="441.76" y="529.16" width="11.86" height="11.86" fill="#fafafa"/>
<rect x="453.12" y="529.16" width="11.86" height="11.86" fill="#f8f8f8"/>
<rect x="464.48" y="529.16" width="11.86" height="11.86" fill="#f3f3f3"/>
<rect x="475.84" y="529.16" width="11.86" height="11.86" fill="#e5e5e5"/>
<rect x="487.20" y="529.16" width="11.86" height="11.86" fill="#b7b7b7"/>
<rect x="498.56" y="529.16" width="11.86" height="11.86" fill="#000000"/>
<rect x="509.92" y="529.16" width="11.86" height="11.86" fill="#b7b7b7"/>
<rect x="521.28" y="529.16" width="11.86" height="11.86" fill="#e5e5e5"/>
<rect x="532.64" y="529.16" width="11.36" height="11.86" fill="#f3f3f3"/>
<rect x="430.40" y="540.52" width="11.86" height="11.86" fill="#fcfcfc"/>
<rect x="441.76" y="540.52" width="11.86" height="11.86" fill="#fafafa"/>
<rect x="453.12" y="540.52" width="11.86" height="11.86" fill="#f8f8f8"/>
<rect x="464.48" y="540.52" width="11.86" height="11.86" fill="#f4f4f4"/>
<rect x="475.84" y="540.52" width="11.86" height="11.86" fill="#eaeaea"/>
<rect x="487.20" y="540.52" width="11.86" height="11.86" fill="#d2d2d2"/>
<rect x="498.56" y="540.52" width="11.86" height="11.86" fill="#b7b7b7"/>
<rect x="509.92" y="540.52" width="11.86" height="11.86" fill="#d2d2d2"/>
<rect x="521.28" y="540.52" width="11.86" height="11.86" fill="#eaeaea"/>
<rect x="532.64" y="540.52" width="11.36" height="11.86" fill="#f4f4f4"/>
<rect x="430.40" y="551.88" width="11.86" height="11.86" fill="#fcfcfc"/>
<rect x="441.76" y="551.88" width="11.86" height="11.86" fill="#fbfbfb"/>
<rect x="453.12" y="551.88" width="11.86" height="11.86" fill="#f9f9f9"/>
<rect x="464.48" y="551.88" width="11.86" height="11.86" fill="#f6f6f6"/>
<rect x="475.84" y="551.88" width="11.86" height="11.86" fill="#f1f1f1"/>
<rect x="487.20" y="551.88" width="11.86" height="11.86" fill="#eaeaea"/>
<rect x="498.56" y="551.88" width="11.86" height="11.86" fill="#e5e5e5"/>
<rect x="509.92" y="551.88" width="11.86" height="11.86" fill="#eaeaea"/>
<rect x="521.28" y="551.88" width="11.86" height="11.86" fill="#f1f1f1"/>
<rect x="532.64" y="551.88" width="11.36" height="11.86" fill="#f6f6f6"/>
<rect x="430.40" y="563.24" width="11.86" height="11.36" fill="#fcfcfc"/>
<rect x="441.76" y="563.24" width="11.86" height="11.36" fill="#fcfcfc"/>
<rect x="453.12" y="563.24" width="11.86" height="11.36" fill="#fafafa"/>
<rect x="464.48" y="563.24" width="11.86" height="11.36" fill="#f9f9f9"/>
<rect x="475.84" y="563.24" width="11.86" height="11.36" fill="#f6f6f6"/>
<rect x="487.20" y="563.24" width="11.86" height="11.36" fill="#f4f4f4"/>
<rect x="498.56" y="563.24" width="11.86" height="11.36" fill="#f3f3f3"/>
<rect x="509.92" y="563.24" width="11.86" height="11.36" fill="#f4f4f4"/>
<rect x="521.28" y="563.24" width="11.86" height="11.36" fill="#f6f6f6"/>
<rect x="532.64" y="563.24" width="11.36" height="11.36" fill="#f9f9f9"/>
<rect x="430.40" y="461.00" width="113.60" height="113.60" fill="none" stroke="#000" stroke-opacity="0.75" stroke-width="1"/>
<rect x="559.40" y="461.00" width="11.92" height="11.86" fill="#95b5c7"/>
<rect x="570.82" y="461.00" width="11.92" height="11.86" fill="#9ebbc9"/>
<rect x="582.24" y="461.00" width="11.92" height="11.86" fill="#acc2cc"/>
<rect x="593.66" y="461.00" width="11.92" height="11.86" fill="#bbcad1"/>
<rect x="605.08" y="461.00" width="11.92" height="11.86" fill="#cbd2d7"/>
<rect x="616.50" y="461.00" width="11.92" height="11.86" fill="#d9d8de"/>
<rect x="627.92" y="461.00" width="11.92" height="11.86" fill="#e2d9e2"/>
<rect x="639.34" y="461.00" width="11.92" height="11.86" fill="#dfd5d8"/>
<rect x="650.76" y="461.00" width="11.92" height="11.86" fill="#dbcbc6"/>
<rect x="662.18" y="461.00" width="11.42" height="11.86" fill="#d6c1b4"/>
<rect x="559.40" y="472.36" width="11.92" height="11.86" fill="#8aaec5"/>
<rect x="570.82" y="472.36" width="11.92" height="11.86" fill="#95b5c7"/>
<rect x="582.24" y="472.36" width="11.92" height="11.86" fill="#a1bdc9"/>
<rect x="593.66" y="472.36" width="11.92" height="11.86" fill="#b2c6ce"/>
<rect x="605.08" y="472.36" width="11.92" height="11.86" fill="#c5cfd5"/>
<rect x="616.50" y="472.36" width="11.92" height="11.86" fill="#d6d7dd"/>
<rect x="627.92" y="472.36" width="11.92" height="11.86" fill="#e2d9e2"/>
<rect x="639.34" y="472.36" width="11.92" height="11.86" fill="#ded3d4"/>
<rect x="650.76" y="472.36" width="11.92" height="11.86" fill="#d9c8c0"/>
<rect x="662.18" y="472.36" width="11.42" height="11.86" fill="#d3baaa"/>
<rect x="559.40" y="483.72" width="11.92" height="11.86" fill="#81a6c3"/>
<rect x="570.82" y="483.72" width="11.92" height="11.86" fill="#89adc5"/>
<rect x="582.24" y="483.72" width="11.92" height="11.86" fill="#95b5c7"/>
<rect x="593.66" y="483.72" width="11.92" height="11.86" fill="#a4beca"/>
<rect x="605.08" y="483.72" width="11.92" height="11.86" fill="#bbcad1"/>
<rect x="616.50" y="483.72" width="11.92" height="11.86" fill="#d3d6db"/>
<rect x="627.92" y="483.72" width="11.92" height="11.86" fill="#e2d9e2"/>
<rect x="639.34" y="483.72" width="11.92" height="11.86" fill="#ddd1d1"/>
<rect x="650.76" y="483.72" width="11.92" height="11.86" fill="#d6c1b4"/>
<rect x="662.18" y="483.72" width="11.42" height="11.86" fill="#d0b09b"/>
<rect x="559.40" y="495.08" width="11.92" height="11.86" fill="#779dc2"/>
<rect x="570.82" y="495.08" width="11.92" height="11.86" fill="#7da3c3"/>
<rect x="582.24" y="495.08" width="11.92" height="11.86" fill="#86aac4"/>
<rect x="593.66" y="495.08" width="11.92" height="11.86" fill="#95b5c7"/>
<rect x="605.08" y="495.08" width="11.92" height="11.86" fill="#acc2cc"/>
<rect x="616.50" y="495.08" width="11.92" height="11.86" fill="#cbd2d7"/>
<rect x="627.92" y="495.08" width="11.92" height="11.86" fill="#e2d9e2"/>
<rect x="639.34" y="495.08" width="11.92" height="11.86" fill="#dbcbc6"/>
<rect x="650.76" y="495.08" width="11.92" height="11.86" fill="#d1b6a3"/>
<rect x="662.18" y="495.08" width="11.42" height="11.86" fill="#cca389"/>
<rect x="559.40" y="506.44" width="11.92" height="11.86" fill="#6e91c0"/>
<rect x="570.82" y="506.44" width="11.92" height="11.86" fill="#7196c1"/>
<rect x="582.24" y="506.44" width="11.92" height="11.86" fill="#779dc2"/>
<rect x="593.66" y="506.44" width="11.92" height="11.86" fill="#81a6c3"/>
<rect x="605.08" y="506.44" width="11.92" height="11.86" fill="#95b5c7"/>
<rect x="616.50" y="506.44" width="11.92" height="11.86" fill="#bbcad1"/>
<rect x="627.92" y="506.44" width="11.92" height="11.86" fill="#e2d9e2"/>
<rect x="639.34" y="506.44" width="11.92" height="11.86" fill="#d6c1b4"/>
<rect x="650.76" y="506.44" width="11.92" height="11.86" fill="#cca389"/>
<rect x="662.18" y="506.44" width="11.42" height="11.86" fill="#c89073"/>
<rect x="559.40" y="517.80" width="11.92" height="11.86" fill="#6684bd"/>
<rect x="570.82" y="517.80" width="11.92" height="11.86" fill="#6887be"/>
<rect x="582.24" y="517.80" width="11.92" height="11.86" fill="#6a8bbf"/>
<rect x="593.66" y="517.80" width="11.92" height="11.86" fill="#6e91c0"/>
<rect x="605.08" y="517.80" width="11.92" height="11.86" fill="#779dc2"/>
<rect x="616.50" y="517.80" width="11.92" height="11.86" fill="#95b5c7"/>
<rect x="627.92" y="517.80" width="11.92" height="11.86" fill="#e2d9e2"/>
<rect x="639.34" y="517.80" width="11.92" height="11.86" fill="#cca389"/>
<rect x="650.76" y="517.80" width="11.92" height="11.86" fill="#c58468"/>
<rect x="662.18" y="517.80" width="11.42" height="11.86" fill="#c0755e"/>
<rect x="559.40" y="529.16" width="11.92" height="11.86" fill="#6276ba"/>
<rect x="570.82" y="529.16" width="11.92" height="11.86" fill="#6276ba"/>
<rect x="582.24" y="529.16" width="11.92" height="11.86" fill="#6276ba"/>
<rect x="593.66" y="529.16" width="11.92" height="11.86" fill="#6276ba"/>
<rect x="605.08" y="529.16" width="11.92" height="11.86" fill="#6276ba"/>
<rect x="616.50" y="529.16" width="11.92" height="11.86" fill="#6276ba"/>
<rect x="627.92" y="529.16" width="11.92" height="11.86" fill="#421257"/>
<rect x="639.34" y="529.16" width="11.92" height="11.86" fill="#b25652"/>
<rect x="650.76" y="529.16" width="11.92" height="11.86" fill="#b25652"/>
<rect x="662.18" y="529.16" width="11.42" height="11.86" fill="#b25652"/>
<rect x="559.40" y="540.52" width="11.92" height="11.86" fill="#6067b6"/>
<rect x="570.82" y="540.52" width="11.92" height="11.86" fill="#5f64b5"/>
<rect x="582.24" y="540.52" width="11.92" height="11.86" fill="#5f5fb3"/>
<rect x="593.66" y="540.52" width="11.92" height="11.86" fill="#5f58b0"/>
<rect x="605.08" y="540.52" width="11.92" height="11.86" fill="#5e49a9"/>
<rect x="616.50" y="540.52" width="11.92" height="11.86" fill="#592a8f"/>
<rect x="627.92" y="540.52" width="11.92" height="11.86" fill="#2f1436"/>
<rect x="639.34" y="540.52" width="11.92" height="11.86" fill="#741e4f"/>
<rect x="650.76" y="540.52" width="11.92" height="11.86" fill="#922f50"/>
<rect x="662.18" y="540.52" width="11.42" height="11.86" fill="#9e3b50"/>
<rect x="559.40" y="551.88" width="11.92" height="11.86" fill="#5f58b0"/>
<rect x="570.82" y="551.88" width="11.92" height="11.86" fill="#5e52ad"/>
<rect x="582.24" y="551.88" width="11.92" height="11.86" fill="#5e49a9"/>
<rect x="593.66" y="551.88" width="11.92" height="11.86" fill="#5d3da1"/>
<rect x="605.08" y="551.88" width="11.92" height="11.86" fill="#592a8f"/>
<rect x="616.50" y="551.88" width="11.92" height="11.86" fill="#4a1566"/>
<rect x="627.92" y="551.88" width="11.92" height="11.86" fill="#2f1436"/>
<rect x="639.34" y="551.88" width="11.92" height="11.86" fill="#521545"/>
<rect x="650.76" y="551.88" width="11.92" height="11.86" fill="#741e4f"/>
<rect x="662.18" y="551.88" width="11.42" height="11.86" fill="#872750"/>
<rect x="559.40" y="563.24" width="11.92" height="11.36" fill="#5e49a9"/>
<rect x="570.82" y="563.24" width="11.92" height="11.36" fill="#5d42a4"/>
<rect x="582.24" y="563.24" width="11.92" height="11.36" fill="#5c389d"/>
<rect x="593.66" y="563.24" width="11.92" height="11.36" fill="#592a8f"/>
<rect x="605.08" y="563.24" width="11.92" height="11.36" fill="#511b77"/>
<rect x="616.50" y="563.24" width="11.92" height="11.36" fill="#411254"/>
<rect x="627.92" y="563.24" width="11.92" height="11.36" fill="#2f1436"/>
<rect x="639.34" y="563.24" width="11.92" height="11.36" fill="#44123f"/>
<rect x="650.76" y="563.24" width="11.92" height="11.36" fill="#5f174a"/>
<rect x="662.18" y="563.24" width="11.42" height="11.36" fill="#741e4f"/>
<rect x="559.40" y="461.00" width="114.20" height="113.60" fill="none" stroke="#000" stroke-opacity="0.75" stroke-width="1"/>
<text x="5.1" y="652.5" font-size="16.5">(</text>
<text x="9.9" y="652.5" font-size="16.5">b</text>
<text x="19.4" y="652.5" font-size="16.5">)</text>
<rect x="37.40" y="747.40" width="11.96" height="11.90" fill="#fdfdfd"/>
<rect x="48.86" y="747.40" width="11.96" height="11.90" fill="#fdfdfd"/>
<rect x="60.32" y="747.40" width="11.96" height="11.90" fill="#fdfdfd"/>
<rect x="71.78" y="747.40" width="11.96" height="11.90" fill="#fcfcfc"/>
<rect x="83.24" y="747.40" width="11.96" height="11.90" fill="#fcfcfc"/>
<rect x="94.70" y="747.40" width="11.96" height="11.90" fill="#fcfcfc"/>
<rect x="106.16" y="747.40" width="11.96" height="11.90" fill="#fcfcfc"/>
<rect x="117.62" y="747.40" width="11.96" height="11.90" fill="#fcfcfc"/>
<rect x="129.08" y="747.40" width="11.96" height="11.90" fill="#fcfcfc"/>
<rect x="140.54" y="747.40" width="11.46" height="11.90" fill="#fcfcfc"/>
<rect x="37.40" y="758.80" width="11.96" height="11.90" fill="#fdfdfd"/>
<rect x="48.86" y="758.80" width="11.96" height="11.90" fill="#fdfdfd"/>
<rect x="60.32" y="758.80" width="11.96" height="11.90" fill="#fcfcfc"/>
<rect x="71.78" y="758.80" width="11.96" height="11.90" fill="#fcfcfc"/>
<rect x="83.24" y="758.80" width="11.96" height="11.90" fill="#fbfbfb"/>
<rect x="94.70" y="758.80" width="11.96" height="11.90" fill="#fafafa"/>
<rect x="106.16" y="758.80" width="11.96" height="11.90" fill="#fafafa"/>
<rect x="117.62" y="758.80" width="11.96" height="11.90" fill="#fafafa"/>
<rect x="129.08" y="758.80" width="11.96" height="11.90" fill="#fbfbfb"/>
<rect x="140.54" y="758.80" width="11.46" height="11.90" fill="#fcfcfc"/>
<rect x="37.40" y="770.20" width="11.96" height="11.90" fill="#fdfdfd"/>
<rect x="48.86" y="770.20" width="11.96" height="11.90" fill="#fcfcfc"/>
<rect x="60.32" y="770.20" width="11.96" height="11.90" fill="#fbfbfb"/>
<rect x="71.78" y="770.20" width="11.96" height="11.90" fill="#fafafa"/>
<rect x="83.24" y="770.20" width="11.96" height="11.90" fill="#f9f9f9"/>
<rect x="94.70" y="770.20" width="11.96" height="11.90" fill="#f8f8f8"/>
<rect x="106.16" y="770.20" width="11.96" height="11.90" fill="#f8f8f8"/>
<rect x="117.62" y="770.20" width="11.96" height="11.90" fill="#f8f8f8"/>
<rect x="129.08" y="770.20" width="11.96" height="11.90" fill="#f9f9f9"/>
<rect x="140.54" y="770.20" width="11.46" height="11.90" fill="#fafafa"/>
<rect x="37.40" y="781.60" width="11.96" height="11.90" fill="#fcfcfc"/>
<rect x="48.86" y="781.60" width="11.96" height="11.90" fill="#fcfcfc"/>
<rect x="60.32" y="781.60" width="11.96" height="11.90" fill="#fafafa"/>
<rect x="71.78" y="781.60" width="11.96" height="11.90" fill="#f9f9f9"/>
<rect x="83.24" y="781.60" width="11.96" height="11.90" fill="#f6f6f6"/>
<rect x="94.70" y="781.60" width="11.96" height="11.90" fill="#f4f4f4"/>
<rect x="106.16" y="781.60" width="11.96" height="11.90" fill="#f3f3f3"/>
<rect x="117.62" y="781.60" width="11.96" height="11.90" fill="#f4f4f4"/>
<rect x="129.08" y="781.60" width="11.96" height="11.90" fill="#f6f6f6"/>
<rect x="140.54" y="781.60" width="11.46" height="11.90" fill="#f9f9f9"/>
<rect x="37.40" y="793.00" width="11.96" height="11.90" fill="#fcfcfc"/>
<rect x="48.86" y="793.00" width="11.96" height="11.90" fill="#fbfbfb"/>
<rect x="60.32" y="793.00" width="11.96" height="11.90" fill="#f9f9f9"/>
<rect x="71.78" y="793.00" width="11.96" height="11.90" fill="#f6f6f6"/>
<rect x="83.24" y="793.00" width="11.96" height="11.90" fill="#f1f1f1"/>
<rect x="94.70" y="793.00" width="11.96" height="11.90" fill="#eaeaea"/>
<rect x="106.16" y="793.00" width="11.96" height="11.90" fill="#e5e5e5"/>
<rect x="117.62" y="793.00" width="11.96" height="11.90" fill="#eaeaea"/>
<rect x="129.08" y="793.00" width="11.96" height="11.90" fill="#f1f1f1"/>
<rect x="140.54" y="793.00" width="11.46" height="11.90" fill="#f6f6f6"/>
<rect x="37.40" y="804.40" width="11.96" height="11.90" fill="#fcfcfc"/>
<rect x="48.86" y="804.40" width="11.96" height="11.90" fill="#fafafa"/>
<rect x="60.32" y="804.40" width="11.96" height="11.90" fill="#f8f8f8"/>
<rect x="71.78" y="804.40" width="11.96" height="11.90" fill="#f4f4f4"/>
<rect x="83.24" y="804.40" width="11.96" height="11.90" fill="#eaeaea"/>
<rect x="94.70" y="804.40" width="11.96" height="11.90" fill="#d2d2d2"/>
<rect x="106.16" y="804.40" width="11.96" height="11.90" fill="#b7b7b7"/>
<rect x="117.62" y="804.40" width="11.96" height="11.90" fill="#d2d2d2"/>
<rect x="129.08" y="804.40" width="11.96" height="11.90" fill="#eaeaea"/>
<rect x="140.54" y="804.40" width="11.46" height="11.90" fill="#f4f4f4"/>
<rect x="37.40" y="815.80" width="11.96" height="11.90" fill="#fcfcfc"/>
<rect x="48.86" y="815.80" width="11.96" height="11.90" fill="#fafafa"/>
<rect x="60.32" y="815.80" width="11.96" height="11.90" fill="#f8f8f8"/>
<rect x="71.78" y="815.80" width="11.96" height="11.90" fill="#f3f3f3"/>
<rect x="83.24" y="815.80" width="11.96" height="11.90" fill="#e5e5e5"/>
<rect x="94.70" y="815.80" width="11.96" height="11.90" fill="#b7b7b7"/>
<rect x="106.16" y="815.80" width="11.96" height="11.90" fill="#000000"/>
<rect x="117.62" y="815.80" width="11.96" height="11.90" fill="#b7b7b7"/>
<rect x="129.08" y="815.80" width="11.96" height="11.90" fill="#e5e5e5"/>
<rect x="140.54" y="815.80" width="11.46" height="11.90" fill="#f3f3f3"/>
<rect x="37.40" y="827.20" width="11.96" height="11.90" fill="#fcfcfc"/>
<rect x="48.86" y="827.20" width="11.96" height="11.90" fill="#fafafa"/>
<rect x="60.32" y="827.20" width="11.96" height="11.90" fill="#f8f8f8"/>
<rect x="71.78" y="827.20" width="11.96" height="11.90" fill="#f4f4f4"/>
<rect x="83.24" y="827.20" width="11.96" height="11.90" fill="#eaeaea"/>
<rect x="94.70" y="827.20" width="11.96" height="11.90" fill="#d2d2d2"/>
<rect x="106.16" y="827.20" width="11.96" height="11.90" fill="#b7b7b7"/>
<rect x="117.62" y="827.20" width="11.96" height="11.90" fill="#d2d2d2"/>
<rect x="129.08" y="827.20" width="11.96" height="11.90" fill="#eaeaea"/>
<rect x="140.54" y="827.20" width="11.46" height="11.90" fill="#f4f4f4"/>
<rect x="37.40" y="838.60" width="11.96" height="11.90" fill="#fcfcfc"/>
<rect x="48.86" y="838.60" width="11.96" height="11.90" fill="#fbfbfb"/>
<rect x="60.32" y="838.60" width="11.96" height="11.90" fill="#f9f9f9"/>
<rect x="71.78" y="838.60" width="11.96" height="11.90" fill="#f6f6f6"/>
<rect x="83.24" y="838.60" width="11.96" height="11.90" fill="#f1f1f1"/>
<rect x="94.70" y="838.60" width="11.96" height="11.90" fill="#eaeaea"/>
<rect x="106.16" y="838.60" width="11.96" height="11.90" fill="#e5e5e5"/>
<rect x="117.62" y="838.60" width="11.96" height="11.90" fill="#eaeaea"/>
<rect x="129.08" y="838.60" width="11.96" height="11.90" fill="#f1f1f1"/>
<rect x="140.54" y="838.60" width="11.46" height="11.90" fill="#f6f6f6"/>
<rect x="37.40" y="850.00" width="11.96" height="11.40" fill="#fcfcfc"/>
<rect x="48.86" y="850.00" width="11.96" height="11.40" fill="#fcfcfc"/>
<rect x="60.32" y="850.00" width="11.96" height="11.40" fill="#fafafa"/>
<rect x="71.78" y="850.00" width="11.96" height="11.40" fill="#f9f9f9"/>
<rect x="83.24" y="850.00" width="11.96" height="11.40" fill="#f6f6f6"/>
<rect x="94.70" y="850.00" width="11.96" height="11.40" fill="#f4f4f4"/>
<rect x="106.16" y="850.00" width="11.96" height="11.40" fill="#f3f3f3"/>
<rect x="117.62" y="850.00" width="11.96" height="11.40" fill="#f4f4f4"/>
<rect x="129.08" y="850.00" width="11.96" height="11.40" fill="#f6f6f6"/>
<rect x="140.54" y="850.00" width="11.46" height="11.40" fill="#f9f9f9"/>
<rect x="37.40" y="747.40" width="114.60" height="114.00" fill="none" stroke="#000" stroke-opacity="0.90" stroke-width="1"/>
<rect x="181.40" y="747.40" width="11.92" height="11.90" fill="#95b5c7"/>
<rect x="192.82" y="747.40" width="11.92" height="11.90" fill="#9ebbc9"/>
<rect x="204.24" y="747.40" width="11.92" height="11.90" fill="#acc2cc"/>
<rect x="215.66" y="747.40" width="11.92" height="11.90" fill="#bbcad1"/>
<rect x="227.08" y="747.40" width="11.92" height="11.90" fill="#cbd2d7"/>
<rect x="238.50" y="747.40" width="11.92" height="11.90" fill="#d9d8de"/>
<rect x="249.92" y="747.40" width="11.92" height="11.90" fill="#e2d9e2"/>
<rect x="261.34" y="747.40" width="11.92" height="11.90" fill="#dfd5d8"/>
<rect x="272.76" y="747.40" width="11.92" height="11.90" fill="#dbcbc6"/>
<rect x="284.18" y="747.40" width="11.42" height="11.90" fill="#d6c1b4"/>
<rect x="181.40" y="758.80" width="11.92" height="11.90" fill="#8aaec5"/>
<rect x="192.82" y="758.80" width="11.92" height="11.90" fill="#95b5c7"/>
<rect x="204.24" y="758.80" width="11.92" height="11.90" fill="#a1bdc9"/>
<rect x="215.66" y="758.80" width="11.92" height="11.90" fill="#b2c6ce"/>
<rect x="227.08" y="758.80" width="11.92" height="11.90" fill="#c5cfd5"/>
<rect x="238.50" y="758.80" width="11.92" height="11.90" fill="#d6d7dd"/>
<rect x="249.92" y="758.80" width="11.92" height="11.90" fill="#e2d9e2"/>
<rect x="261.34" y="758.80" width="11.92" height="11.90" fill="#ded3d4"/>
<rect x="272.76" y="758.80" width="11.92" height="11.90" fill="#d9c8c0"/>
<rect x="284.18" y="758.80" width="11.42" height="11.90" fill="#d3baaa"/>
<rect x="181.40" y="770.20" width="11.92" height="11.90" fill="#81a6c3"/>
<rect x="192.82" y="770.20" width="11.92" height="11.90" fill="#89adc5"/>
<rect x="204.24" y="770.20" width="11.92" height="11.90" fill="#95b5c7"/>
<rect x="215.66" y="770.20" width="11.92" height="11.90" fill="#a4beca"/>
<rect x="227.08" y="770.20" width="11.92" height="11.90" fill="#bbcad1"/>
<rect x="238.50" y="770.20" width="11.92" height="11.90" fill="#d3d6db"/>
<rect x="249.92" y="770.20" width="11.92" height="11.90" fill="#e2d9e2"/>
<rect x="261.34" y="770.20" width="11.92" height="11.90" fill="#ddd1d1"/>
<rect x="272.76" y="770.20" width="11.92" height="11.90" fill="#d6c1b4"/>
<rect x="284.18" y="770.20" width="11.42" height="11.90" fill="#d0b09b"/>
<rect x="181.40" y="781.60" width="11.92" height="11.90" fill="#779dc2"/>
<rect x="192.82" y="781.60" width="11.92" height="11.90" fill="#7da3c3"/>
<rect x="204.24" y="781.60" width="11.92" height="11.90" fill="#86aac4"/>
<rect x="215.66" y="781.60" width="11.92" height="11.90" fill="#95b5c7"/>
<rect x="227.08" y="781.60" width="11.92" height="11.90" fill="#acc2cc"/>
<rect x="238.50" y="781.60" width="11.92" height="11.90" fill="#cbd2d7"/>
<rect x="249.92" y="781.60" width="11.92" height="11.90" fill="#e2d9e2"/>
<rect x="261.34" y="781.60" width="11.92" height="11.90" fill="#dbcbc6"/>
<rect x="272.76" y="781.60" width="11.92" height="11.90" fill="#d1b6a3"/>
<rect x="284.18" y="781.60" width="11.42" height="11.90" fill="#cca389"/>
<rect x="181.40" y="793.00" width="11.92" height="11.90" fill="#6e91c0"/>
<rect x="192.82" y="793.00" width="11.92" height="11.90" fill="#7196c1"/>
<rect x="204.24" y="793.00" width="11.92" height="11.90" fill="#779dc2"/>
<rect x="215.66" y="793.00" width="11.92" height="11.90" fill="#81a6c3"/>
<rect x="227.08" y="793.00" width="11.92" height="11.90" fill="#95b5c7"/>
<rect x="238.50" y="793.00" width="11.92" height="11.90" fill="#bbcad1"/>
<rect x="249.92" y="793.00" width="11.92" height="11.90" fill="#e2d9e2"/>
<rect x="261.34" y="793.00" width="11.92" height="11.90" fill="#d6c1b4"/>
<rect x="272.76" y="793.00" width="11.92" height="11.90" fill="#cca389"/>
<rect x="284.18" y="793.00" width="11.42" height="11.90" fill="#c89073"/>
<rect x="181.40" y="804.40" width="11.92" height="11.90" fill="#6684bd"/>
<rect x="192.82" y="804.40" width="11.92" height="11.90" fill="#6887be"/>
<rect x="204.24" y="804.40" width="11.92" height="11.90" fill="#6a8bbf"/>
<rect x="215.66" y="804.40" width="11.92" height="11.90" fill="#6e91c0"/>
<rect x="227.08" y="804.40" width="11.92" height="11.90" fill="#779dc2"/>
<rect x="238.50" y="804.40" width="11.92" height="11.90" fill="#95b5c7"/>
<rect x="249.92" y="804.40" width="11.92" height="11.90" fill="#e2d9e2"/>
<rect x="261.34" y="804.40" width="11.92" height="11.90" fill="#cca389"/>
<rect x="272.76" y="804.40" width="11.92" height="11.90" fill="#c58468"/>
<rect x="284.18" y="804.40" width="11.42" height="11.90" fill="#c0755e"/>
<rect x="181.40" y="815.80" width="11.92" height="11.90" fill="#6276ba"/>
<rect x="192.82" y="815.80" width="11.92" height="11.90" fill="#6276ba"/>
<rect x="204.24" y="815.80" width="11.92" height="11.90" fill="#6276ba"/>
<rect x="215.66" y="815.80" width="11.92" height="11.90" fill="#6276ba"/>
<rect x="227.08" y="815.80" width="11.92" height="11.90" fill="#6276ba"/>
<rect x="238.50" y="815.80" width="11.92" height="11.90" fill="#6276ba"/>
<rect x="249.92" y="815.80" width="11.92" height="11.90" fill="#2f1436"/>
<rect x="261.34" y="815.80" width="11.92" height="11.90" fill="#b25652"/>
<rect x="272.76" y="815.80" width="11.92" height="11.90" fill="#b25652"/>
<rect x="284.18" y="815.80" width="11.42" height="11.90" fill="#b25652"/>
<rect x="181.40" y="827.20" width="11.92" height="11.90" fill="#6067b6"/>
<rect x="192.82" y="827.20" width="11.92" height="11.90" fill="#5f64b5"/>
<rect x="204.24" y="827.20" width="11.92" height="11.90" fill="#5f5fb3"/>
<rect x="215.66" y="827.20" width="11.92" height="11.90" fill="#5f58b0"/>
<rect x="227.08" y="827.20" width="11.92" height="11.90" fill="#5e49a9"/>
<rect x="238.50" y="827.20" width="11.92" height="11.90" fill="#592a8f"/>
<rect x="249.92" y="827.20" width="11.92" height="11.90" fill="#2f1436"/>
<rect x="261.34" y="827.20" width="11.92" height="11.90" fill="#741e4f"/>
<rect x="272.76" y="827.20" width="11.92" height="11.90" fill="#922f50"/>
<rect x="284.18" y="827.20" width="11.42" height="11.90" fill="#9e3b50"/>
<rect x="181.40" y="838.60" width="11.92" height="11.90" fill="#5f58b0"/>
<rect x="192.82" y="838.60" width="11.92" height="11.90" fill="#5e52ad"/>
<rect x="204.24" y="838.60" width="11.92" height="11.90" fill="#5e49a9"/>
<rect x="215.66" y="838.60" width="11.92" height="11.90" fill="#5d3da1"/>
<rect x="227.08" y="838.60" width="11.92" height="11.90" fill="#592a8f"/>
<rect x="238.50" y="838.60" width="11.92" height="11.90" fill="#4a1566"/>
<rect x="249.92" y="838.60" width="11.92" height="11.90" fill="#2f1436"/>
<rect x="261.34" y="838.60" width="11.92" height="11.90" fill="#521545"/>
<rect x="272.76" y="838.60" width="11.92" height="11.90" fill="#741e4f"/>
<rect x="284.18" y="838.60" width="11.42" height="11.90" fill="#872750"/>
<rect x="181.40" y="850.00" width="11.92" height="11.40" fill="#5e49a9"/>
<rect x="192.82" y="850.00" width="11.92" height="11.40" fill="#5d42a4"/>
<rect x="204.24" y="850.00" width="11.92" height="11.40" fill="#5c389d"/>
<rect x="215.66" y="850.00" width="11.92" height="11.40" fill="#592a8f"/>
<rect x="227.08" y="850.00" width="11.92" height="11.40" fill="#511b77"/>
<rect x="238.50" y="850.00" width="11.92" height="11.40" fill="#411254"/>
<rect x="249.92" y="850.00" width="11.92" height="11.40" fill="#2f1436"/>
<rect x="261.34" y="850.00" width="11.92" height="11.40" fill="#44123f"/>
<rect x="272.76" y="850.00" width="11.92" height="11.40" fill="#5f174a"/>
<rect x="284.18" y="850.00" width="11.42" height="11.40" fill="#741e4f"/>
<rect x="181.40" y="747.40" width="114.20" height="114.00" fill="none" stroke="#000" stroke-opacity="0.90" stroke-width="1"/>
<defs><linearGradient id="gg"><stop offset="0.000" stop-color="#000000"/><stop offset="0.050" stop-color="#0d0d0d"/><stop offset="0.100" stop-color="#1a1a1a"/><stop offset="0.150" stop-color="#262626"/><stop offset="0.200" stop-color="#333333"/><stop offset="0.250" stop-color="#404040"/><stop offset="0.300" stop-color="#4c4c4c"/><stop offset="0.350" stop-color="#595959"/><stop offset="0.400" stop-color="#666666"/><stop offset="0.450" stop-color="#737373"/><stop offset="0.500" stop-color="#808080"/><stop offset="0.550" stop-color="#8c8c8c"/><stop offset="0.600" stop-color="#999999"/><stop offset="0.650" stop-color="#a6a6a6"/><stop offset="0.700" stop-color="#b2b2b2"/><stop offset="0.750" stop-color="#bfbfbf"/><stop offset="0.800" stop-color="#cccccc"/><stop offset="0.850" stop-color="#d9d9d9"/><stop offset="0.900" stop-color="#e6e6e6"/><stop offset="0.950" stop-color="#f2f2f2"/><stop offset="1.000" stop-color="#ffffff"/></linearGradient><linearGradient id="tg"><stop offset="0.000" stop-color="#e2d9e2"/><stop offset="0.025" stop-color="#dad8df"/><stop offset="0.050" stop-color="#ccd2d8"/><stop offset="0.075" stop-color="#b9c9d0"/><stop offset="0.100" stop-color="#a6bfca"/><stop offset="0.125" stop-color="#95b5c7"/><stop offset="0.150" stop-color="#85a9c4"/><stop offset="0.175" stop-color="#779dc2"/><stop offset="0.200" stop-color="#6d90c0"/><stop offset="0.225" stop-color="#6684bd"/><stop offset="0.250" stop-color="#6276ba"/><stop offset="0.275" stop-color="#6067b6"/><stop offset="0.300" stop-color="#5f58b0"/><stop offset="0.325" stop-color="#5e49a9"/><stop offset="0.350" stop-color="#5d3a9e"/><stop offset="0.375" stop-color="#592a8f"/><stop offset="0.400" stop-color="#531e7c"/><stop offset="0.425" stop-color="#4b1668"/><stop offset="0.450" stop-color="#401253"/><stop offset="0.475" stop-color="#361142"/><stop offset="0.500" stop-color="#2f1436"/><stop offset="0.525" stop-color="#371139"/><stop offset="0.550" stop-color="#43123e"/><stop offset="0.575" stop-color="#531545"/><stop offset="0.600" stop-color="#64194b"/><stop offset="0.625" stop-color="#741e4f"/><stop offset="0.650" stop-color="#842550"/><stop offset="0.675" stop-color="#922f50"/><stop offset="0.700" stop-color="#9f3c50"/><stop offset="0.725" stop-color="#a94850"/><stop offset="0.750" stop-color="#b25652"/><stop offset="0.775" stop-color="#ba6557"/><stop offset="0.800" stop-color="#c0755e"/><stop offset="0.825" stop-color="#c58468"/><stop offset="0.850" stop-color="#c89477"/><stop offset="0.875" stop-color="#cca389"/><stop offset="0.900" stop-color="#d0b39e"/><stop offset="0.925" stop-color="#d5c0b3"/><stop offset="0.950" stop-color="#dbccc8"/><stop offset="0.975" stop-color="#e0d6d9"/><stop offset="1.000" stop-color="#e2d9e2"/></linearGradient></defs>
<rect x="37.3" y="733.2" width="114.4" height="6.4" fill="url(#gg)" stroke="#222" stroke-width="0.9"/>
<rect x="181.3" y="733.2" width="114.0" height="6.4" fill="url(#tg)" stroke="#222" stroke-width="0.9"/>
<line x1="37.3" y1="730.0" x2="37.3" y2="733.2" stroke="#222" stroke-width="0.9"/>
<line x1="94.5" y1="730.0" x2="94.5" y2="733.2" stroke="#222" stroke-width="0.9"/>
<line x1="151.7" y1="730.0" x2="151.7" y2="733.2" stroke="#222" stroke-width="0.9"/>
<line x1="181.3" y1="730.0" x2="181.3" y2="733.2" stroke="#222" stroke-width="0.9"/>
<line x1="238.3" y1="730.0" x2="238.3" y2="733.2" stroke="#222" stroke-width="0.9"/>
<line x1="295.3" y1="730.0" x2="295.3" y2="733.2" stroke="#222" stroke-width="0.9"/>
<text x="37.3" y="723.6" font-size="15.0" text-anchor="middle">0</text>
<text x="94.3" y="723.6" font-size="15.0" textLength="21.4" lengthAdjust="spacingAndGlyphs" text-anchor="middle">0.5</text>
<text x="151.7" y="723.6" font-size="15.0" text-anchor="middle">1</text>
<text x="238.3" y="723.6" font-size="15.0" text-anchor="middle">0</text>
<rect x="172.5" y="718.7" width="8.8" height="1.2" fill="#000"/>
<text x="182.9" y="724.0" font-size="14" font-style="italic">&#960;</text>
<text x="291.0" y="724.0" font-size="14" font-style="italic">&#960;</text>
<text x="312.7" y="652.7" font-size="16.5">(</text>
<text x="317.7" y="652.7" font-size="16.5">c</text>
<text x="325.2" y="652.7" font-size="16.5">)</text>
<defs><clipPath id="axclip"><rect x="388.0" y="649.9" width="287.4" height="285.5"/></clipPath></defs>
<g clip-path="url(#axclip)">
<polyline points="401.00,672.50 433.64,708.75 466.27,753.35 498.91,780.80 531.55,808.20 564.19,835.90 596.83,863.10 629.46,889.80 662.10,909.40" fill="none" stroke="#1f77b4" stroke-width="2.10" stroke-linejoin="round" stroke-linecap="butt"/>
<line x1="401.00" y1="662.80" x2="401.00" y2="682.20" stroke="#1f77b4" stroke-width="2.10"/>
<line x1="396.10" y1="662.80" x2="405.90" y2="662.80" stroke="#1f77b4" stroke-width="1.5"/>
<line x1="396.10" y1="682.20" x2="405.90" y2="682.20" stroke="#1f77b4" stroke-width="1.5"/>
<line x1="433.64" y1="705.60" x2="433.64" y2="711.90" stroke="#1f77b4" stroke-width="2.10"/>
<line x1="428.74" y1="705.60" x2="438.54" y2="705.60" stroke="#1f77b4" stroke-width="1.5"/>
<line x1="428.74" y1="711.90" x2="438.54" y2="711.90" stroke="#1f77b4" stroke-width="1.5"/>
<line x1="466.27" y1="751.30" x2="466.27" y2="755.40" stroke="#1f77b4" stroke-width="2.10"/>
<line x1="461.38" y1="751.30" x2="471.17" y2="751.30" stroke="#1f77b4" stroke-width="1.5"/>
<line x1="461.38" y1="755.40" x2="471.17" y2="755.40" stroke="#1f77b4" stroke-width="1.5"/>
<line x1="498.91" y1="779.30" x2="498.91" y2="782.30" stroke="#1f77b4" stroke-width="2.10"/>
<line x1="494.01" y1="779.30" x2="503.81" y2="779.30" stroke="#1f77b4" stroke-width="1.5"/>
<line x1="494.01" y1="782.30" x2="503.81" y2="782.30" stroke="#1f77b4" stroke-width="1.5"/>
<line x1="531.55" y1="806.70" x2="531.55" y2="809.70" stroke="#1f77b4" stroke-width="2.10"/>
<line x1="526.65" y1="806.70" x2="536.45" y2="806.70" stroke="#1f77b4" stroke-width="1.5"/>
<line x1="526.65" y1="809.70" x2="536.45" y2="809.70" stroke="#1f77b4" stroke-width="1.5"/>
<line x1="564.19" y1="834.80" x2="564.19" y2="837.00" stroke="#1f77b4" stroke-width="2.10"/>
<line x1="559.29" y1="834.80" x2="569.09" y2="834.80" stroke="#1f77b4" stroke-width="1.5"/>
<line x1="559.29" y1="837.00" x2="569.09" y2="837.00" stroke="#1f77b4" stroke-width="1.5"/>
<line x1="596.83" y1="861.70" x2="596.83" y2="864.50" stroke="#1f77b4" stroke-width="2.10"/>
<line x1="591.93" y1="861.70" x2="601.73" y2="861.70" stroke="#1f77b4" stroke-width="1.5"/>
<line x1="591.93" y1="864.50" x2="601.73" y2="864.50" stroke="#1f77b4" stroke-width="1.5"/>
<line x1="629.46" y1="888.50" x2="629.46" y2="891.10" stroke="#1f77b4" stroke-width="2.10"/>
<line x1="624.56" y1="888.50" x2="634.36" y2="888.50" stroke="#1f77b4" stroke-width="1.5"/>
<line x1="624.56" y1="891.10" x2="634.36" y2="891.10" stroke="#1f77b4" stroke-width="1.5"/>
<line x1="662.10" y1="902.40" x2="662.10" y2="916.40" stroke="#1f77b4" stroke-width="2.10"/>
<line x1="657.20" y1="902.40" x2="667.00" y2="902.40" stroke="#1f77b4" stroke-width="1.5"/>
<line x1="657.20" y1="916.40" x2="667.00" y2="916.40" stroke="#1f77b4" stroke-width="1.5"/>
<polyline points="401.00,678.25 433.64,699.25 466.27,714.60 498.91,729.05 531.55,742.35 564.19,761.45 596.83,835.75 629.46,875.90 662.10,911.40" fill="none" stroke="#ff7f0e" stroke-width="2.10" stroke-linejoin="round" stroke-linecap="butt"/>
<line x1="401.00" y1="673.50" x2="401.00" y2="683.00" stroke="#ff7f0e" stroke-width="2.10"/>
<line x1="396.10" y1="673.50" x2="405.90" y2="673.50" stroke="#ff7f0e" stroke-width="1.5"/>
<line x1="396.10" y1="683.00" x2="405.90" y2="683.00" stroke="#ff7f0e" stroke-width="1.5"/>
<line x1="433.64" y1="695.40" x2="433.64" y2="703.10" stroke="#ff7f0e" stroke-width="2.10"/>
<line x1="428.74" y1="695.40" x2="438.54" y2="695.40" stroke="#ff7f0e" stroke-width="1.5"/>
<line x1="428.74" y1="703.10" x2="438.54" y2="703.10" stroke="#ff7f0e" stroke-width="1.5"/>
<line x1="466.27" y1="711.20" x2="466.27" y2="718.00" stroke="#ff7f0e" stroke-width="2.10"/>
<line x1="461.38" y1="711.20" x2="471.17" y2="711.20" stroke="#ff7f0e" stroke-width="1.5"/>
<line x1="461.38" y1="718.00" x2="471.17" y2="718.00" stroke="#ff7f0e" stroke-width="1.5"/>
<line x1="498.91" y1="725.00" x2="498.91" y2="733.10" stroke="#ff7f0e" stroke-width="2.10"/>
<line x1="494.01" y1="725.00" x2="503.81" y2="725.00" stroke="#ff7f0e" stroke-width="1.5"/>
<line x1="494.01" y1="733.10" x2="503.81" y2="733.10" stroke="#ff7f0e" stroke-width="1.5"/>
<line x1="531.55" y1="735.40" x2="531.55" y2="749.30" stroke="#ff7f0e" stroke-width="2.10"/>
<line x1="526.65" y1="735.40" x2="536.45" y2="735.40" stroke="#ff7f0e" stroke-width="1.5"/>
<line x1="526.65" y1="749.30" x2="536.45" y2="749.30" stroke="#ff7f0e" stroke-width="1.5"/>
<line x1="564.19" y1="749.10" x2="564.19" y2="773.80" stroke="#ff7f0e" stroke-width="2.10"/>
<line x1="559.29" y1="749.10" x2="569.09" y2="749.10" stroke="#ff7f0e" stroke-width="1.5"/>
<line x1="559.29" y1="773.80" x2="569.09" y2="773.80" stroke="#ff7f0e" stroke-width="1.5"/>
<line x1="596.83" y1="828.60" x2="596.83" y2="842.90" stroke="#ff7f0e" stroke-width="2.10"/>
<line x1="591.93" y1="828.60" x2="601.73" y2="828.60" stroke="#ff7f0e" stroke-width="1.5"/>
<line x1="591.93" y1="842.90" x2="601.73" y2="842.90" stroke="#ff7f0e" stroke-width="1.5"/>
<line x1="629.46" y1="863.90" x2="629.46" y2="887.90" stroke="#ff7f0e" stroke-width="2.10"/>
<line x1="624.56" y1="863.90" x2="634.36" y2="863.90" stroke="#ff7f0e" stroke-width="1.5"/>
<line x1="624.56" y1="887.90" x2="634.36" y2="887.90" stroke="#ff7f0e" stroke-width="1.5"/>
<line x1="662.10" y1="900.40" x2="662.10" y2="922.40" stroke="#ff7f0e" stroke-width="2.10"/>
<line x1="657.20" y1="900.40" x2="667.00" y2="900.40" stroke="#ff7f0e" stroke-width="1.5"/>
<line x1="657.20" y1="922.40" x2="667.00" y2="922.40" stroke="#ff7f0e" stroke-width="1.5"/>
</g>
<rect x="388.0" y="649.9" width="287.4" height="285.5" fill="none" stroke="#222" stroke-width="1.2"/>
<line x1="383.4" y1="699.80" x2="388.0" y2="699.80" stroke="#222" stroke-width="1.2"/>
<rect x="342.3" y="700.34" width="11.2" height="1.45" fill="#000"/>
<text x="361.2" y="706.7" font-size="19.0" text-anchor="middle">1</text>
<text x="372.6" y="706.7" font-size="19.0" text-anchor="middle">0</text>
<line x1="383.4" y1="754.45" x2="388.0" y2="754.45" stroke="#222" stroke-width="1.2"/>
<rect x="342.3" y="754.99" width="11.2" height="1.45" fill="#000"/>
<text x="361.2" y="761.3" font-size="19.0" text-anchor="middle">2</text>
<text x="372.6" y="761.3" font-size="19.0" text-anchor="middle">0</text>
<line x1="383.4" y1="809.10" x2="388.0" y2="809.10" stroke="#222" stroke-width="1.2"/>
<rect x="342.3" y="809.64" width="11.2" height="1.45" fill="#000"/>
<text x="361.2" y="816.0" font-size="19.0" text-anchor="middle">3</text>
<text x="372.6" y="816.0" font-size="19.0" text-anchor="middle">0</text>
<line x1="383.4" y1="863.75" x2="388.0" y2="863.75" stroke="#222" stroke-width="1.2"/>
<rect x="342.3" y="864.29" width="11.2" height="1.45" fill="#000"/>
<text x="361.2" y="870.6" font-size="19.0" text-anchor="middle">4</text>
<text x="372.6" y="870.6" font-size="19.0" text-anchor="middle">0</text>
<line x1="383.4" y1="918.40" x2="388.0" y2="918.40" stroke="#222" stroke-width="1.2"/>
<rect x="342.3" y="918.94" width="11.2" height="1.45" fill="#000"/>
<text x="361.2" y="925.3" font-size="19.0" text-anchor="middle">5</text>
<text x="372.6" y="925.3" font-size="19.0" text-anchor="middle">0</text>
<line x1="401.00" y1="935.4" x2="401.00" y2="939.6" stroke="#222" stroke-width="1.2"/>
<text x="395.3" y="958.7" font-size="19.0" text-anchor="middle">1</text>
<text x="406.7" y="958.7" font-size="19.0" text-anchor="middle">0</text>
<line x1="466.27" y1="935.4" x2="466.27" y2="939.6" stroke="#222" stroke-width="1.2"/>
<text x="460.5" y="958.7" font-size="19.0" text-anchor="middle">2</text>
<text x="472.0" y="958.7" font-size="19.0" text-anchor="middle">0</text>
<line x1="531.55" y1="935.4" x2="531.55" y2="939.6" stroke="#222" stroke-width="1.2"/>
<text x="525.8" y="958.7" font-size="19.0" text-anchor="middle">3</text>
<text x="537.3" y="958.7" font-size="19.0" text-anchor="middle">0</text>
<line x1="596.83" y1="935.4" x2="596.83" y2="939.6" stroke="#222" stroke-width="1.2"/>
<text x="591.1" y="958.7" font-size="19.0" text-anchor="middle">4</text>
<text x="602.5" y="958.7" font-size="19.0" text-anchor="middle">0</text>
<line x1="662.10" y1="935.4" x2="662.10" y2="939.6" stroke="#222" stroke-width="1.2"/>
<text x="656.4" y="958.7" font-size="19.0" text-anchor="middle">5</text>
<text x="667.8" y="958.7" font-size="19.0" text-anchor="middle">0</text>
<text x="531.5" y="981.7" font-size="18.5" textLength="37.2" lengthAdjust="spacingAndGlyphs" text-anchor="middle">SNR</text>
<text transform="translate(332.9,794.4) rotate(-90)" font-size="18.5" text-anchor="middle" textLength="33.6" lengthAdjust="spacingAndGlyphs">RSE</text>
<rect x="521.8" y="657.4" width="145.6" height="52.1" rx="4" ry="4" fill="#fff" fill-opacity="0.8" stroke="#ccc" stroke-width="1"/>
<line x1="527.1" y1="670.8" x2="560.5" y2="670.8" stroke="#1f77b4" stroke-width="2.1"/>
<line x1="527.1" y1="694.0" x2="560.5" y2="694.0" stroke="#ff7f0e" stroke-width="2.1"/>
<text x="572.4" y="676.5" font-size="16.5" textLength="88.4" lengthAdjust="spacingAndGlyphs">Gain-based</text>
<text x="572.4" y="700.2" font-size="16.5" textLength="32.6" lengthAdjust="spacingAndGlyphs">RRR</text>
</svg>
</body></html>
